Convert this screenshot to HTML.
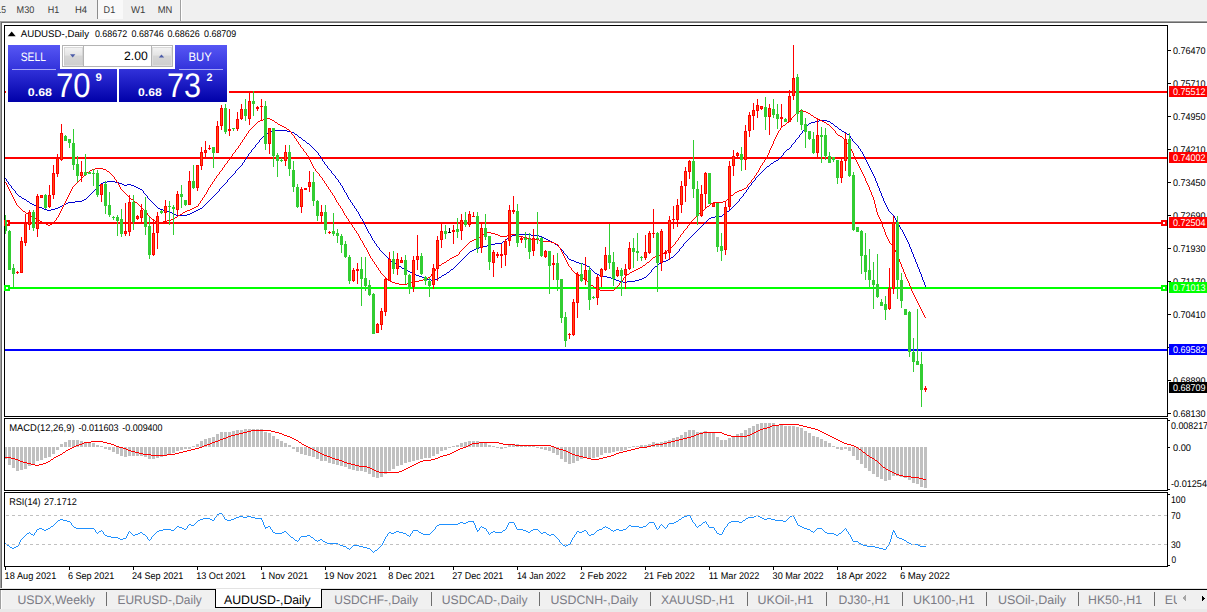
<!DOCTYPE html>
<html><head><meta charset="utf-8"><title>AUDUSD-,Daily</title>
<style>html,body{margin:0;padding:0;background:#fff;overflow:hidden}svg{display:block}text{font-family:"Liberation Sans",sans-serif;white-space:pre}</style>
</head><body>
<svg width="1207" height="612" viewBox="0 0 1207 612" shape-rendering="crispEdges" text-rendering="geometricPrecision">
<rect x="0" y="0" width="1207" height="612" fill="#fff" />
<rect x="0" y="0" width="1207" height="21" fill="#f0f0f0" />
<rect x="0" y="20" width="1207" height="1" fill="#f6f6f6" />
<rect x="0" y="21" width="1207" height="1" fill="#a0a0a0" />
<rect x="0" y="22" width="1207" height="1" fill="#696969" />
<rect x="0" y="22" width="1" height="566" fill="#a0a0a0" />
<rect x="1" y="23" width="1" height="565" fill="#696969" />
<rect x="98" y="0" width="25" height="19" fill="#f9f9f9" />
<rect x="97" y="0" width="1" height="19" fill="#8c8c8c" />
<rect x="180" y="0" width="1" height="21" fill="#a0a0a0" />
<rect x="181" y="0" width="1" height="21" fill="#ffffff" />
<text x="-3.5" y="13" font-size="9.7" fill="#3c3c3c" textLength="9.5" lengthAdjust="spacingAndGlyphs" >15</text>
<text x="16.6" y="13" font-size="9.7" fill="#3c3c3c" textLength="17.7" lengthAdjust="spacingAndGlyphs" >M30</text>
<text x="47.7" y="13" font-size="9.7" fill="#3c3c3c" textLength="11.5" lengthAdjust="spacingAndGlyphs" >H1</text>
<text x="74.9" y="13" font-size="9.7" fill="#3c3c3c" textLength="12.1" lengthAdjust="spacingAndGlyphs" >H4</text>
<text x="103.6" y="13" font-size="9.7" fill="#3c3c3c" textLength="11.6" lengthAdjust="spacingAndGlyphs" >D1</text>
<text x="130.9" y="13" font-size="9.7" fill="#3c3c3c" textLength="14.4" lengthAdjust="spacingAndGlyphs" >W1</text>
<text x="157.7" y="13" font-size="9.7" fill="#3c3c3c" textLength="14.6" lengthAdjust="spacingAndGlyphs" >MN</text>
<rect x="4" y="25" width="1164" height="1" fill="#000" />
<rect x="4" y="416" width="1164" height="1" fill="#000" />
<rect x="4" y="25" width="1" height="392" fill="#000" />
<rect x="1167" y="25" width="1" height="392" fill="#000" />
<rect x="4" y="418" width="1164" height="1" fill="#000" />
<rect x="4" y="490" width="1164" height="1" fill="#000" />
<rect x="4" y="418" width="1" height="73" fill="#000" />
<rect x="1167" y="418" width="1" height="73" fill="#000" />
<rect x="4" y="492" width="1164" height="1" fill="#000" />
<rect x="4" y="566" width="1164" height="1" fill="#000" />
<rect x="4" y="492" width="1" height="75" fill="#000" />
<rect x="1167" y="492" width="1" height="75" fill="#000" />
<rect x="5" y="91" width="1162" height="2" fill="#ff0000"/>
<rect x="5" y="157" width="1162" height="2" fill="#ff0000"/>
<rect x="5" y="222" width="1162" height="2" fill="#ff0000"/>
<rect x="5" y="287" width="1162" height="2" fill="#00ff00"/>
<rect x="5" y="349" width="1162" height="2" fill="#0000ff"/>
<rect x="4" y="220" width="6" height="6" fill="#ff0000"/><rect x="6" y="222" width="2" height="2" fill="#fff"/>
<rect x="1161" y="220" width="6" height="6" fill="#ff0000"/><rect x="1163" y="222" width="2" height="2" fill="#fff"/>
<rect x="4" y="285" width="6" height="6" fill="#00ff00"/><rect x="6" y="287" width="2" height="2" fill="#fff"/>
<rect x="1161" y="285" width="6" height="6" fill="#00ff00"/><rect x="1163" y="287" width="2" height="2" fill="#fff"/>
<path d="M6 179h1v2h-1zM8 182h1v2h-1zM11 186h1v2h-1zM15 191h1v2h-1zM143 191h1v2h-1zM147 196h1v2h-1zM219 189h1v2h-1zM227 180h1v2h-1zM235 171h1v2h-1zM242 163h1v2h-1zM244 160h1v2h-1zM246 157h1v2h-1zM248 154h1v2h-1zM251 150h1v2h-1zM255 145h1v2h-1zM259 140h1v2h-1zM318 153h1v2h-1zM320 156h1v2h-1zM322 159h1v2h-1zM324 162h1v2h-1zM327 166h1v2h-1zM331 171h1v2h-1zM335 176h1v2h-1zM338 180h1v2h-1zM340 183h1v2h-1zM342 186h1v2h-1zM343 188h1v2h-1zM344 190h1v2h-1zM346 193h1v2h-1zM347 195h1v2h-1zM348 197h1v2h-1zM350 200h1v2h-1zM352 203h1v2h-1zM354 206h1v2h-1zM356 209h1v2h-1zM358 212h1v2h-1zM359 214h1v2h-1zM360 216h1v2h-1zM362 219h1v2h-1zM363 221h1v2h-1zM364 223h1v2h-1zM365 225h1v2h-1zM366 227h1v2h-1zM367 229h1v2h-1zM368 231h1v2h-1zM370 234h1v2h-1zM371 236h1v2h-1zM372 238h1v2h-1zM374 241h1v2h-1zM376 244h1v2h-1zM379 248h1v2h-1zM563 251h1v2h-1zM567 256h1v2h-1zM651 270h1v2h-1zM679 249h1v2h-1zM683 244h1v2h-1zM739 199h1v2h-1zM743 194h1v2h-1zM746 190h1v2h-1zM748 187h1v2h-1zM751 183h1v2h-1zM755 178h1v2h-1zM783 153h1v2h-1zM791 145h1v2h-1zM795 140h1v2h-1zM799 135h1v2h-1zM802 131h1v2h-1zM804 128h1v2h-1zM850 136h1v2h-1zM852 139h1v2h-1zM858 146h1v2h-1zM860 149h1v2h-1zM862 152h1v2h-1zM863 154h1v2h-1zM864 156h1v2h-1zM865 158h1v2h-1zM866 160h1v2h-1zM867 162h1v2h-1zM868 164h1v2h-1zM869 166h1v2h-1zM870 168h1v2h-1zM871 170h1v2h-1zM872 172h1v2h-1zM873 174h1v2h-1zM874 176h1v2h-1zM875 178h1v3h-1zM876 181h1v2h-1zM877 183h1v3h-1zM878 186h1v2h-1zM879 188h1v3h-1zM880 191h1v2h-1zM881 193h1v3h-1zM882 196h1v2h-1zM883 198h1v3h-1zM884 201h1v2h-1zM885 203h1v2h-1zM886 205h1v2h-1zM887 207h1v2h-1zM888 209h1v2h-1zM894 216h1v2h-1zM895 218h1v2h-1zM896 220h1v2h-1zM898 223h1v2h-1zM899 225h1v2h-1zM900 227h1v2h-1zM902 230h1v2h-1zM903 232h1v2h-1zM904 234h1v2h-1zM905 236h1v2h-1zM906 238h1v2h-1zM907 240h1v2h-1zM908 242h1v2h-1zM909 244h1v3h-1zM910 247h1v2h-1zM911 249h1v3h-1zM912 252h1v2h-1zM913 254h1v3h-1zM914 257h1v2h-1zM915 259h1v3h-1zM916 262h1v2h-1zM917 264h1v3h-1zM918 267h1v2h-1zM919 269h1v3h-1zM920 272h1v2h-1zM921 274h1v3h-1zM922 277h1v3h-1zM923 280h1v2h-1zM924 282h1v3h-1zM925 285h1v2h-1zM5 178h1v1h-1zM229 178h1v1h-1zM336 178h1v1h-1zM7 181h1v1h-1zM107 181h8v1h-8zM753 181h1v1h-1zM9 184h1v1h-1zM100 184h1v1h-1zM122 184h2v1h-2zM127 184h4v1h-4zM224 184h1v1h-1zM10 185h1v1h-1zM99 185h1v1h-1zM124 185h3v1h-3zM131 185h3v1h-3zM223 185h1v1h-1zM341 185h1v1h-1zM750 185h1v1h-1zM12 188h1v1h-1zM96 188h1v1h-1zM138 188h2v1h-2zM220 188h1v1h-1zM13 189h1v1h-1zM95 189h1v1h-1zM140 189h2v1h-2zM747 189h1v1h-1zM14 190h1v1h-1zM94 190h1v1h-1zM142 190h1v1h-1zM16 193h1v1h-1zM91 193h1v1h-1zM144 193h1v1h-1zM216 193h1v1h-1zM744 193h1v1h-1zM17 194h1v1h-1zM90 194h1v1h-1zM145 194h1v1h-1zM215 194h1v1h-1zM18 195h1v1h-1zM89 195h1v1h-1zM146 195h1v1h-1zM214 195h1v1h-1zM19 196h2v1h-2zM88 196h1v1h-1zM213 196h1v1h-1zM742 196h1v1h-1zM21 197h1v1h-1zM87 197h1v1h-1zM212 197h1v1h-1zM741 197h1v1h-1zM22 198h2v1h-2zM86 198h1v1h-1zM148 198h1v1h-1zM211 198h1v1h-1zM740 198h1v1h-1zM24 199h2v1h-2zM84 199h2v1h-2zM149 199h1v1h-1zM210 199h1v1h-1zM349 199h1v1h-1zM26 200h1v1h-1zM82 200h2v1h-2zM150 200h1v1h-1zM209 200h1v1h-1zM27 201h2v1h-2zM75 201h7v1h-7zM151 201h1v1h-1zM208 201h1v1h-1zM738 201h1v1h-1zM29 202h1v1h-1zM68 202h7v1h-7zM152 202h1v1h-1zM207 202h1v1h-1zM351 202h1v1h-1zM737 202h1v1h-1zM30 203h2v1h-2zM66 203h2v1h-2zM153 203h1v1h-1zM206 203h1v1h-1zM736 203h1v1h-1zM32 204h2v1h-2zM64 204h2v1h-2zM154 204h1v1h-1zM205 204h1v1h-1zM735 204h1v1h-1zM34 205h2v1h-2zM62 205h2v1h-2zM155 205h1v1h-1zM204 205h1v1h-1zM353 205h1v1h-1zM734 205h1v1h-1zM36 206h3v1h-3zM60 206h2v1h-2zM156 206h1v1h-1zM203 206h1v1h-1zM733 206h1v1h-1zM39 207h3v1h-3zM58 207h2v1h-2zM157 207h1v1h-1zM202 207h1v1h-1zM732 207h1v1h-1zM42 208h2v1h-2zM55 208h3v1h-3zM158 208h2v1h-2zM200 208h2v1h-2zM355 208h1v1h-1zM731 208h1v1h-1zM44 209h3v1h-3zM51 209h4v1h-4zM160 209h3v1h-3zM198 209h2v1h-2zM730 209h1v1h-1zM47 210h4v1h-4zM163 210h4v1h-4zM196 210h2v1h-2zM729 210h1v1h-1zM92 192h1v1h-1zM217 192h1v1h-1zM345 192h1v1h-1zM745 192h1v1h-1zM93 191h1v1h-1zM218 191h1v1h-1zM97 187h1v1h-1zM136 187h2v1h-2zM221 187h1v1h-1zM98 186h1v1h-1zM134 186h2v1h-2zM222 186h1v1h-1zM749 186h1v1h-1zM101 183h2v1h-2zM119 183h3v1h-3zM225 183h1v1h-1zM103 182h4v1h-4zM115 182h4v1h-4zM226 182h1v1h-1zM339 182h1v1h-1zM752 182h1v1h-1zM167 211h3v1h-3zM194 211h2v1h-2zM357 211h1v1h-1zM727 211h2v1h-2zM889 211h1v1h-1zM170 212h2v1h-2zM192 212h2v1h-2zM726 212h1v1h-1zM890 212h1v1h-1zM172 213h2v1h-2zM190 213h2v1h-2zM725 213h1v1h-1zM891 213h1v1h-1zM174 214h2v1h-2zM187 214h3v1h-3zM723 214h2v1h-2zM892 214h1v1h-1zM176 215h11v1h-11zM722 215h1v1h-1zM893 215h1v1h-1zM228 179h1v1h-1zM337 179h1v1h-1zM230 177h1v1h-1zM756 177h1v1h-1zM231 176h1v1h-1zM757 176h1v1h-1zM232 175h1v1h-1zM334 175h1v1h-1zM758 175h1v1h-1zM233 174h1v1h-1zM333 174h1v1h-1zM759 174h1v1h-1zM234 173h1v1h-1zM332 173h1v1h-1zM760 173h1v1h-1zM236 170h1v1h-1zM330 170h1v1h-1zM763 170h1v1h-1zM237 169h1v1h-1zM329 169h1v1h-1zM764 169h1v1h-1zM238 168h1v1h-1zM328 168h1v1h-1zM765 168h1v1h-1zM239 167h1v1h-1zM766 167h1v1h-1zM240 166h1v1h-1zM767 166h2v1h-2zM241 165h1v1h-1zM326 165h1v1h-1zM769 165h1v1h-1zM243 162h1v1h-1zM773 162h1v1h-1zM245 159h1v1h-1zM778 159h1v1h-1zM247 156h1v1h-1zM781 156h1v1h-1zM249 153h1v1h-1zM250 152h1v1h-1zM317 152h1v1h-1zM784 152h1v1h-1zM252 149h1v1h-1zM314 149h1v1h-1zM787 149h2v1h-2zM253 148h1v1h-1zM313 148h1v1h-1zM789 148h1v1h-1zM859 148h1v1h-1zM254 147h1v1h-1zM312 147h1v1h-1zM790 147h1v1h-1zM256 144h1v1h-1zM309 144h1v1h-1zM792 144h1v1h-1zM856 144h1v1h-1zM257 143h1v1h-1zM307 143h2v1h-2zM793 143h1v1h-1zM855 143h1v1h-1zM258 142h1v1h-1zM306 142h1v1h-1zM794 142h1v1h-1zM854 142h1v1h-1zM260 139h1v1h-1zM302 139h1v1h-1zM796 139h1v1h-1zM261 138h1v1h-1zM301 138h1v1h-1zM797 138h1v1h-1zM851 138h1v1h-1zM262 137h1v1h-1zM299 137h2v1h-2zM798 137h1v1h-1zM263 136h2v1h-2zM298 136h1v1h-1zM265 135h1v1h-1zM297 135h1v1h-1zM849 135h1v1h-1zM266 134h1v1h-1zM295 134h2v1h-2zM800 134h1v1h-1zM847 134h2v1h-2zM267 133h2v1h-2zM294 133h1v1h-1zM801 133h1v1h-1zM846 133h1v1h-1zM269 132h2v1h-2zM291 132h3v1h-3zM844 132h2v1h-2zM271 131h4v1h-4zM287 131h4v1h-4zM842 131h2v1h-2zM275 130h12v1h-12zM803 130h1v1h-1zM841 130h1v1h-1zM303 140h2v1h-2zM305 141h1v1h-1zM853 141h1v1h-1zM310 145h1v1h-1zM857 145h1v1h-1zM311 146h1v1h-1zM315 150h1v1h-1zM786 150h1v1h-1zM316 151h1v1h-1zM785 151h1v1h-1zM861 151h1v1h-1zM319 155h1v1h-1zM782 155h1v1h-1zM321 158h1v1h-1zM779 158h1v1h-1zM323 161h1v1h-1zM774 161h2v1h-2zM325 164h1v1h-1zM770 164h1v1h-1zM361 218h1v1h-1zM709 218h2v1h-2zM369 233h1v1h-1zM694 233h1v1h-1zM373 240h1v1h-1zM505 240h1v1h-1zM548 240h2v1h-2zM687 240h1v1h-1zM375 243h1v1h-1zM495 243h7v1h-7zM554 243h1v1h-1zM684 243h1v1h-1zM377 246h1v1h-1zM483 246h4v1h-4zM558 246h1v1h-1zM682 246h1v1h-1zM378 247h1v1h-1zM479 247h4v1h-4zM559 247h1v1h-1zM681 247h1v1h-1zM380 250h1v1h-1zM472 250h2v1h-2zM562 250h1v1h-1zM381 251h1v1h-1zM470 251h2v1h-2zM678 251h1v1h-1zM382 252h1v1h-1zM469 252h1v1h-1zM677 252h1v1h-1zM383 253h1v1h-1zM468 253h1v1h-1zM564 253h1v1h-1zM676 253h1v1h-1zM384 254h1v1h-1zM467 254h1v1h-1zM565 254h1v1h-1zM675 254h1v1h-1zM385 255h1v1h-1zM466 255h1v1h-1zM566 255h1v1h-1zM674 255h1v1h-1zM386 256h1v1h-1zM465 256h1v1h-1zM673 256h1v1h-1zM387 257h1v1h-1zM464 257h1v1h-1zM671 257h2v1h-2zM388 258h1v1h-1zM463 258h1v1h-1zM568 258h1v1h-1zM670 258h1v1h-1zM389 259h1v1h-1zM462 259h1v1h-1zM569 259h2v1h-2zM668 259h2v1h-2zM390 260h1v1h-1zM461 260h1v1h-1zM571 260h3v1h-3zM666 260h2v1h-2zM391 261h2v1h-2zM460 261h1v1h-1zM574 261h2v1h-2zM663 261h3v1h-3zM393 262h1v1h-1zM459 262h1v1h-1zM576 262h3v1h-3zM661 262h2v1h-2zM394 263h2v1h-2zM458 263h1v1h-1zM579 263h4v1h-4zM659 263h2v1h-2zM396 264h2v1h-2zM457 264h1v1h-1zM583 264h3v1h-3zM658 264h1v1h-1zM398 265h1v1h-1zM456 265h1v1h-1zM586 265h1v1h-1zM657 265h1v1h-1zM399 266h2v1h-2zM455 266h1v1h-1zM587 266h2v1h-2zM655 266h2v1h-2zM401 267h1v1h-1zM454 267h1v1h-1zM589 267h1v1h-1zM654 267h1v1h-1zM402 268h2v1h-2zM453 268h1v1h-1zM590 268h1v1h-1zM653 268h1v1h-1zM404 269h2v1h-2zM451 269h2v1h-2zM591 269h1v1h-1zM652 269h1v1h-1zM406 270h2v1h-2zM450 270h1v1h-1zM592 270h1v1h-1zM408 271h2v1h-2zM449 271h1v1h-1zM593 271h1v1h-1zM410 272h2v1h-2zM447 272h2v1h-2zM594 272h1v1h-1zM650 272h1v1h-1zM412 273h2v1h-2zM446 273h1v1h-1zM595 273h2v1h-2zM649 273h1v1h-1zM414 274h2v1h-2zM444 274h2v1h-2zM597 274h2v1h-2zM648 274h1v1h-1zM416 275h3v1h-3zM442 275h2v1h-2zM599 275h4v1h-4zM647 275h1v1h-1zM419 276h3v1h-3zM441 276h1v1h-1zM603 276h4v1h-4zM646 276h1v1h-1zM422 277h2v1h-2zM439 277h2v1h-2zM607 277h4v1h-4zM644 277h2v1h-2zM424 278h3v1h-3zM438 278h1v1h-1zM611 278h3v1h-3zM642 278h2v1h-2zM427 279h4v1h-4zM435 279h3v1h-3zM614 279h2v1h-2zM639 279h3v1h-3zM431 280h4v1h-4zM616 280h3v1h-3zM635 280h4v1h-4zM474 249h2v1h-2zM561 249h1v1h-1zM476 248h3v1h-3zM560 248h1v1h-1zM680 248h1v1h-1zM487 245h4v1h-4zM557 245h1v1h-1zM491 244h4v1h-4zM555 244h2v1h-2zM502 242h1v1h-1zM552 242h2v1h-2zM685 242h1v1h-1zM503 241h2v1h-2zM550 241h2v1h-2zM686 241h1v1h-1zM506 239h1v1h-1zM546 239h2v1h-2zM688 239h1v1h-1zM507 238h2v1h-2zM544 238h2v1h-2zM689 238h1v1h-1zM509 237h1v1h-1zM542 237h2v1h-2zM690 237h1v1h-1zM510 236h2v1h-2zM539 236h3v1h-3zM691 236h1v1h-1zM512 235h3v1h-3zM531 235h8v1h-8zM692 235h1v1h-1zM515 234h16v1h-16zM693 234h1v1h-1zM619 281h4v1h-4zM627 281h8v1h-8zM623 282h4v1h-4zM695 232h1v1h-1zM696 231h1v1h-1zM697 230h1v1h-1zM698 229h1v1h-1zM901 229h1v1h-1zM699 228h1v1h-1zM700 227h1v1h-1zM701 226h1v1h-1zM702 225h1v1h-1zM703 224h1v1h-1zM704 223h1v1h-1zM705 222h1v1h-1zM897 222h1v1h-1zM706 221h1v1h-1zM707 220h1v1h-1zM708 219h1v1h-1zM711 217h4v1h-4zM715 216h7v1h-7zM754 180h1v1h-1zM761 172h1v1h-1zM762 171h1v1h-1zM771 163h2v1h-2zM776 160h2v1h-2zM780 157h1v1h-1zM805 127h1v1h-1zM837 127h1v1h-1zM806 126h1v1h-1zM835 126h2v1h-2zM807 125h1v1h-1zM834 125h1v1h-1zM808 124h1v1h-1zM833 124h1v1h-1zM809 123h2v1h-2zM831 123h2v1h-2zM811 122h4v1h-4zM830 122h1v1h-1zM815 121h4v1h-4zM827 121h3v1h-3zM819 120h8v1h-8zM838 128h1v1h-1zM839 129h2v1h-2z" fill="#0000d0"/>
<path d="M6 183h1v2h-1zM7 185h1v2h-1zM8 187h1v2h-1zM9 189h1v2h-1zM10 191h1v2h-1zM11 193h1v2h-1zM12 195h1v2h-1zM13 197h1v2h-1zM14 199h1v2h-1zM15 201h1v2h-1zM16 203h1v2h-1zM54 221h1v2h-1zM56 218h1v2h-1zM58 215h1v2h-1zM59 213h1v2h-1zM60 211h1v2h-1zM61 209h1v2h-1zM62 207h1v2h-1zM63 205h1v2h-1zM64 203h1v2h-1zM65 201h1v2h-1zM66 199h1v2h-1zM67 197h1v2h-1zM68 195h1v2h-1zM69 193h1v2h-1zM70 191h1v2h-1zM71 189h1v2h-1zM72 187h1v2h-1zM114 177h1v2h-1zM116 180h1v2h-1zM118 183h1v2h-1zM119 185h1v2h-1zM120 187h1v2h-1zM147 213h1v2h-1zM198 204h1v2h-1zM200 201h1v2h-1zM202 198h1v2h-1zM204 195h1v2h-1zM206 192h1v2h-1zM207 190h1v2h-1zM208 188h1v2h-1zM210 185h1v2h-1zM212 182h1v2h-1zM214 179h1v2h-1zM216 176h1v2h-1zM219 172h1v2h-1zM222 168h1v2h-1zM224 165h1v2h-1zM227 161h1v2h-1zM230 157h1v2h-1zM232 154h1v2h-1zM235 150h1v2h-1zM238 146h1v2h-1zM240 143h1v2h-1zM242 140h1v2h-1zM244 137h1v2h-1zM246 134h1v2h-1zM248 131h1v2h-1zM291 132h1v2h-1zM294 136h1v2h-1zM296 139h1v2h-1zM298 142h1v2h-1zM300 145h1v2h-1zM303 149h1v2h-1zM306 153h1v2h-1zM308 156h1v2h-1zM309 158h1v2h-1zM310 160h1v2h-1zM311 162h1v2h-1zM312 164h1v2h-1zM313 166h1v2h-1zM315 169h1v2h-1zM319 174h1v2h-1zM322 178h1v2h-1zM324 181h1v2h-1zM326 184h1v2h-1zM328 187h1v2h-1zM330 190h1v2h-1zM332 193h1v2h-1zM334 196h1v2h-1zM335 198h1v2h-1zM336 200h1v2h-1zM338 203h1v2h-1zM340 206h1v2h-1zM342 209h1v2h-1zM343 211h1v2h-1zM344 213h1v2h-1zM346 216h1v2h-1zM348 219h1v2h-1zM350 222h1v2h-1zM352 225h1v2h-1zM354 228h1v2h-1zM356 231h1v2h-1zM358 234h1v2h-1zM359 236h1v2h-1zM360 238h1v2h-1zM362 241h1v2h-1zM363 243h1v2h-1zM364 245h1v2h-1zM366 248h1v2h-1zM367 250h1v2h-1zM368 252h1v2h-1zM369 254h1v2h-1zM370 256h1v2h-1zM372 259h1v2h-1zM374 262h1v2h-1zM376 265h1v2h-1zM378 268h1v2h-1zM380 271h1v2h-1zM431 274h1v2h-1zM435 269h1v2h-1zM459 252h1v2h-1zM558 245h1v2h-1zM560 248h1v2h-1zM561 250h1v2h-1zM562 252h1v2h-1zM563 254h1v2h-1zM564 256h1v2h-1zM565 258h1v2h-1zM566 260h1v2h-1zM567 262h1v2h-1zM568 264h1v2h-1zM571 268h1v2h-1zM619 283h1v2h-1zM623 278h1v2h-1zM675 242h1v2h-1zM678 238h1v2h-1zM680 235h1v2h-1zM683 231h1v2h-1zM687 226h1v2h-1zM691 221h1v2h-1zM747 185h1v2h-1zM751 180h1v2h-1zM754 176h1v2h-1zM756 173h1v2h-1zM758 170h1v2h-1zM759 168h1v2h-1zM760 166h1v2h-1zM762 163h1v2h-1zM764 160h1v2h-1zM766 157h1v2h-1zM767 155h1v2h-1zM768 153h1v2h-1zM769 150h1v3h-1zM770 148h1v2h-1zM771 146h1v2h-1zM772 144h1v2h-1zM773 141h1v3h-1zM774 139h1v2h-1zM775 137h1v2h-1zM776 135h1v2h-1zM777 133h1v2h-1zM778 131h1v2h-1zM780 128h1v2h-1zM791 118h1v2h-1zM835 131h1v2h-1zM846 141h1v2h-1zM848 144h1v2h-1zM850 147h1v2h-1zM851 149h1v2h-1zM852 151h1v2h-1zM853 153h1v3h-1zM854 156h1v2h-1zM855 158h1v2h-1zM856 160h1v2h-1zM857 162h1v2h-1zM858 164h1v2h-1zM859 166h1v2h-1zM860 168h1v2h-1zM861 170h1v2h-1zM862 172h1v2h-1zM863 174h1v2h-1zM864 176h1v2h-1zM865 178h1v3h-1zM866 181h1v2h-1zM867 183h1v2h-1zM868 185h1v2h-1zM869 187h1v3h-1zM870 190h1v2h-1zM871 192h1v3h-1zM872 195h1v2h-1zM873 197h1v3h-1zM874 200h1v4h-1zM875 204h1v4h-1zM876 208h1v4h-1zM877 212h1v3h-1zM878 215h1v2h-1zM879 217h1v2h-1zM880 219h1v2h-1zM881 221h1v3h-1zM882 224h1v3h-1zM883 227h1v2h-1zM884 229h1v3h-1zM885 232h1v3h-1zM886 235h1v2h-1zM887 237h1v2h-1zM888 239h1v2h-1zM889 241h1v2h-1zM893 246h1v2h-1zM894 248h1v2h-1zM895 250h1v2h-1zM896 252h1v2h-1zM897 254h1v3h-1zM898 257h1v2h-1zM899 259h1v3h-1zM900 262h1v2h-1zM901 264h1v3h-1zM902 267h1v2h-1zM903 269h1v3h-1zM904 272h1v2h-1zM905 274h1v3h-1zM906 277h1v2h-1zM907 279h1v2h-1zM908 281h1v2h-1zM909 283h1v3h-1zM910 286h1v2h-1zM911 288h1v3h-1zM912 291h1v2h-1zM913 293h1v2h-1zM914 295h1v2h-1zM915 297h1v2h-1zM916 299h1v2h-1zM917 301h1v2h-1zM918 303h1v2h-1zM919 305h1v2h-1zM920 307h1v2h-1zM921 309h1v2h-1zM922 311h1v2h-1zM923 313h1v2h-1zM924 315h1v2h-1zM5 182h1v1h-1zM77 182h1v1h-1zM117 182h1v1h-1zM750 182h1v1h-1zM17 205h1v1h-1zM139 205h1v1h-1zM339 205h1v1h-1zM709 205h1v1h-1zM18 206h1v1h-1zM140 206h1v1h-1zM196 206h2v1h-2zM707 206h2v1h-2zM19 207h1v1h-1zM141 207h1v1h-1zM194 207h2v1h-2zM706 207h1v1h-1zM20 208h1v1h-1zM142 208h1v1h-1zM192 208h2v1h-2zM341 208h1v1h-1zM705 208h1v1h-1zM21 209h1v1h-1zM143 209h1v1h-1zM190 209h2v1h-2zM704 209h1v1h-1zM22 210h1v1h-1zM144 210h1v1h-1zM187 210h3v1h-3zM703 210h1v1h-1zM23 211h2v1h-2zM145 211h1v1h-1zM185 211h2v1h-2zM702 211h1v1h-1zM25 212h1v1h-1zM146 212h1v1h-1zM183 212h2v1h-2zM701 212h1v1h-1zM26 213h2v1h-2zM182 213h1v1h-1zM699 213h2v1h-2zM28 214h2v1h-2zM180 214h2v1h-2zM698 214h1v1h-1zM30 215h1v1h-1zM148 215h1v1h-1zM178 215h2v1h-2zM345 215h1v1h-1zM697 215h1v1h-1zM31 216h2v1h-2zM149 216h1v1h-1zM177 216h1v1h-1zM696 216h1v1h-1zM33 217h1v1h-1zM57 217h1v1h-1zM150 217h1v1h-1zM175 217h2v1h-2zM695 217h1v1h-1zM34 218h2v1h-2zM151 218h1v1h-1zM174 218h1v1h-1zM347 218h1v1h-1zM694 218h1v1h-1zM36 219h2v1h-2zM152 219h1v1h-1zM171 219h3v1h-3zM693 219h1v1h-1zM38 220h2v1h-2zM55 220h1v1h-1zM153 220h2v1h-2zM167 220h4v1h-4zM692 220h1v1h-1zM40 221h2v1h-2zM155 221h4v1h-4zM163 221h4v1h-4zM349 221h1v1h-1zM42 222h2v1h-2zM159 222h4v1h-4zM44 223h2v1h-2zM52 223h2v1h-2zM690 223h1v1h-1zM46 224h2v1h-2zM50 224h2v1h-2zM351 224h1v1h-1zM689 224h1v1h-1zM48 225h2v1h-2zM688 225h1v1h-1zM73 186h1v1h-1zM327 186h1v1h-1zM74 185h1v1h-1zM75 184h1v1h-1zM211 184h1v1h-1zM748 184h1v1h-1zM76 183h1v1h-1zM325 183h1v1h-1zM749 183h1v1h-1zM78 181h1v1h-1zM213 181h1v1h-1zM79 180h1v1h-1zM323 180h1v1h-1zM80 179h1v1h-1zM115 179h1v1h-1zM752 179h1v1h-1zM81 178h1v1h-1zM215 178h1v1h-1zM753 178h1v1h-1zM82 177h1v1h-1zM321 177h1v1h-1zM83 176h1v1h-1zM113 176h1v1h-1zM320 176h1v1h-1zM84 175h1v1h-1zM112 175h1v1h-1zM217 175h1v1h-1zM755 175h1v1h-1zM85 174h1v1h-1zM111 174h1v1h-1zM218 174h1v1h-1zM86 173h1v1h-1zM110 173h1v1h-1zM318 173h1v1h-1zM87 172h2v1h-2zM109 172h1v1h-1zM317 172h1v1h-1zM757 172h1v1h-1zM89 171h1v1h-1zM107 171h2v1h-2zM220 171h1v1h-1zM316 171h1v1h-1zM90 170h2v1h-2zM106 170h1v1h-1zM221 170h1v1h-1zM92 169h3v1h-3zM103 169h3v1h-3zM95 168h8v1h-8zM314 168h1v1h-1zM121 189h1v1h-1zM329 189h1v1h-1zM742 189h2v1h-2zM122 190h1v1h-1zM739 190h3v1h-3zM123 191h1v1h-1zM737 191h2v1h-2zM124 192h1v1h-1zM331 192h1v1h-1zM735 192h2v1h-2zM125 193h1v1h-1zM734 193h1v1h-1zM126 194h1v1h-1zM205 194h1v1h-1zM733 194h1v1h-1zM127 195h1v1h-1zM333 195h1v1h-1zM731 195h2v1h-2zM128 196h1v1h-1zM730 196h1v1h-1zM129 197h1v1h-1zM203 197h1v1h-1zM729 197h1v1h-1zM130 198h1v1h-1zM728 198h1v1h-1zM131 199h2v1h-2zM727 199h1v1h-1zM133 200h1v1h-1zM201 200h1v1h-1zM726 200h1v1h-1zM134 201h1v1h-1zM723 201h3v1h-3zM135 202h2v1h-2zM337 202h1v1h-1zM713 202h10v1h-10zM137 203h1v1h-1zM199 203h1v1h-1zM711 203h2v1h-2zM138 204h1v1h-1zM710 204h1v1h-1zM209 187h1v1h-1zM746 187h1v1h-1zM223 167h1v1h-1zM225 164h1v1h-1zM226 163h1v1h-1zM228 160h1v1h-1zM229 159h1v1h-1zM765 159h1v1h-1zM231 156h1v1h-1zM233 153h1v1h-1zM234 152h1v1h-1zM305 152h1v1h-1zM236 149h1v1h-1zM237 148h1v1h-1zM302 148h1v1h-1zM239 145h1v1h-1zM241 142h1v1h-1zM243 139h1v1h-1zM844 139h1v1h-1zM245 136h1v1h-1zM840 136h2v1h-2zM247 133h1v1h-1zM836 133h1v1h-1zM249 130h1v1h-1zM289 130h1v1h-1zM779 130h1v1h-1zM834 130h1v1h-1zM250 129h1v1h-1zM287 129h2v1h-2zM833 129h1v1h-1zM251 128h1v1h-1zM286 128h1v1h-1zM832 128h1v1h-1zM252 127h1v1h-1zM284 127h2v1h-2zM781 127h1v1h-1zM831 127h1v1h-1zM253 126h1v1h-1zM282 126h2v1h-2zM782 126h1v1h-1zM830 126h1v1h-1zM254 125h1v1h-1zM280 125h2v1h-2zM783 125h2v1h-2zM829 125h1v1h-1zM255 124h1v1h-1zM278 124h2v1h-2zM785 124h1v1h-1zM827 124h2v1h-2zM256 123h1v1h-1zM277 123h1v1h-1zM786 123h1v1h-1zM826 123h1v1h-1zM257 122h1v1h-1zM275 122h2v1h-2zM787 122h2v1h-2zM824 122h2v1h-2zM258 121h2v1h-2zM274 121h1v1h-1zM789 121h1v1h-1zM822 121h2v1h-2zM260 120h3v1h-3zM272 120h2v1h-2zM790 120h1v1h-1zM820 120h2v1h-2zM263 119h4v1h-4zM270 119h2v1h-2zM818 119h2v1h-2zM267 118h3v1h-3zM816 118h2v1h-2zM290 131h1v1h-1zM292 134h1v1h-1zM837 134h1v1h-1zM293 135h1v1h-1zM838 135h2v1h-2zM295 138h1v1h-1zM843 138h1v1h-1zM297 141h1v1h-1zM299 144h1v1h-1zM301 147h1v1h-1zM304 151h1v1h-1zM307 155h1v1h-1zM353 227h1v1h-1zM355 230h1v1h-1zM684 230h1v1h-1zM357 233h1v1h-1zM485 233h2v1h-2zM491 233h4v1h-4zM682 233h1v1h-1zM361 240h1v1h-1zM472 240h2v1h-2zM539 240h4v1h-4zM677 240h1v1h-1zM365 247h1v1h-1zM464 247h1v1h-1zM559 247h1v1h-1zM671 247h1v1h-1zM371 258h1v1h-1zM450 258h2v1h-2zM652 258h1v1h-1zM373 261h1v1h-1zM446 261h1v1h-1zM649 261h1v1h-1zM375 264h1v1h-1zM441 264h1v1h-1zM645 264h1v1h-1zM377 267h1v1h-1zM437 267h1v1h-1zM570 267h1v1h-1zM640 267h2v1h-2zM379 270h1v1h-1zM572 270h1v1h-1zM634 270h2v1h-2zM381 273h1v1h-1zM432 273h1v1h-1zM575 273h2v1h-2zM629 273h1v1h-1zM382 274h1v1h-1zM577 274h1v1h-1zM627 274h2v1h-2zM383 275h1v1h-1zM578 275h2v1h-2zM626 275h1v1h-1zM384 276h1v1h-1zM430 276h1v1h-1zM580 276h2v1h-2zM625 276h1v1h-1zM385 277h1v1h-1zM428 277h2v1h-2zM582 277h1v1h-1zM624 277h1v1h-1zM386 278h1v1h-1zM426 278h2v1h-2zM583 278h2v1h-2zM387 279h2v1h-2zM423 279h3v1h-3zM585 279h1v1h-1zM389 280h1v1h-1zM419 280h4v1h-4zM586 280h1v1h-1zM622 280h1v1h-1zM390 281h2v1h-2zM415 281h4v1h-4zM587 281h1v1h-1zM621 281h1v1h-1zM392 282h3v1h-3zM411 282h4v1h-4zM588 282h1v1h-1zM620 282h1v1h-1zM395 283h4v1h-4zM407 283h4v1h-4zM589 283h1v1h-1zM399 284h8v1h-8zM590 284h1v1h-1zM433 272h1v1h-1zM574 272h1v1h-1zM630 272h2v1h-2zM434 271h1v1h-1zM573 271h1v1h-1zM632 271h2v1h-2zM436 268h1v1h-1zM638 268h2v1h-2zM438 266h1v1h-1zM569 266h1v1h-1zM642 266h1v1h-1zM439 265h2v1h-2zM643 265h2v1h-2zM442 263h2v1h-2zM646 263h1v1h-1zM444 262h2v1h-2zM647 262h2v1h-2zM447 260h2v1h-2zM650 260h1v1h-1zM449 259h1v1h-1zM651 259h1v1h-1zM452 257h2v1h-2zM653 257h2v1h-2zM454 256h2v1h-2zM655 256h4v1h-4zM456 255h2v1h-2zM659 255h3v1h-3zM458 254h1v1h-1zM662 254h1v1h-1zM460 251h1v1h-1zM666 251h1v1h-1zM461 250h1v1h-1zM667 250h2v1h-2zM462 249h1v1h-1zM669 249h1v1h-1zM463 248h1v1h-1zM670 248h1v1h-1zM465 246h1v1h-1zM672 246h1v1h-1zM466 245h1v1h-1zM673 245h1v1h-1zM892 245h1v1h-1zM467 244h1v1h-1zM556 244h2v1h-2zM674 244h1v1h-1zM891 244h1v1h-1zM468 243h1v1h-1zM554 243h2v1h-2zM890 243h1v1h-1zM469 242h1v1h-1zM551 242h3v1h-3zM470 241h2v1h-2zM543 241h8v1h-8zM676 241h1v1h-1zM474 239h2v1h-2zM531 239h8v1h-8zM476 238h2v1h-2zM527 238h4v1h-4zM478 237h2v1h-2zM523 237h4v1h-4zM679 237h1v1h-1zM480 236h2v1h-2zM500 236h7v1h-7zM519 236h4v1h-4zM482 235h1v1h-1zM498 235h2v1h-2zM507 235h4v1h-4zM515 235h4v1h-4zM483 234h2v1h-2zM495 234h3v1h-3zM511 234h4v1h-4zM681 234h1v1h-1zM487 232h4v1h-4zM591 285h2v1h-2zM618 285h1v1h-1zM593 286h1v1h-1zM617 286h1v1h-1zM594 287h2v1h-2zM616 287h1v1h-1zM596 288h2v1h-2zM615 288h1v1h-1zM598 289h2v1h-2zM614 289h1v1h-1zM600 290h14v1h-14zM636 269h2v1h-2zM663 253h2v1h-2zM665 252h1v1h-1zM685 229h1v1h-1zM686 228h1v1h-1zM744 188h2v1h-2zM761 165h1v1h-1zM763 162h1v1h-1zM792 117h1v1h-1zM814 117h2v1h-2zM793 116h1v1h-1zM813 116h1v1h-1zM794 115h1v1h-1zM811 115h2v1h-2zM795 114h1v1h-1zM810 114h1v1h-1zM796 113h1v1h-1zM808 113h2v1h-2zM797 112h1v1h-1zM806 112h2v1h-2zM798 111h2v1h-2zM803 111h3v1h-3zM800 110h3v1h-3zM842 137h1v1h-1zM845 140h1v1h-1zM847 143h1v1h-1zM849 146h1v1h-1zM925 317h1v1h-1z" fill="#ff0000"/>
<path d="M5 215h1v19h-1zM9 230h1v40h-1zM13 264h1v23h-1zM33 210h1v21h-1zM45 194h1v15h-1zM65 135h1v6h-1zM69 139h1v9h-1zM73 129h1v41h-1zM77 156h1v26h-1zM85 154h1v22h-1zM89 172h1v2h-1zM93 169h1v17h-1zM97 170h1v27h-1zM105 181h1v33h-1zM109 192h1v25h-1zM113 216h1v4h-1zM117 215h1v21h-1zM121 209h1v28h-1zM133 195h1v35h-1zM145 197h1v38h-1zM149 217h1v42h-1zM161 210h1v4h-1zM169 201h1v24h-1zM173 205h1v30h-1zM181 185h1v23h-1zM185 200h1v6h-1zM193 165h1v24h-1zM213 147h1v21h-1zM225 104h1v30h-1zM233 128h1v3h-1zM245 99h1v22h-1zM253 91h1v25h-1zM265 101h1v49h-1zM273 128h1v39h-1zM277 153h1v24h-1zM281 158h1v4h-1zM289 145h1v31h-1zM293 161h1v31h-1zM297 184h1v24h-1zM313 172h1v34h-1zM317 200h1v21h-1zM325 205h1v29h-1zM333 213h1v23h-1zM337 229h1v14h-1zM341 234h1v19h-1zM345 241h1v17h-1zM349 255h1v29h-1zM361 257h1v49h-1zM365 257h1v34h-1zM369 280h1v16h-1zM373 293h1v41h-1zM393 251h1v23h-1zM405 255h1v29h-1zM409 274h1v20h-1zM421 253h1v22h-1zM425 276h1v9h-1zM429 278h1v19h-1zM445 225h1v14h-1zM457 218h1v20h-1zM465 212h1v15h-1zM477 212h1v41h-1zM485 214h1v26h-1zM489 236h1v34h-1zM517 204h1v43h-1zM525 232h1v16h-1zM529 233h1v26h-1zM537 212h1v32h-1zM541 237h1v20h-1zM549 251h1v43h-1zM557 253h1v38h-1zM561 279h1v44h-1zM565 312h1v35h-1zM581 263h1v19h-1zM589 266h1v44h-1zM593 296h1v3h-1zM609 224h1v45h-1zM613 252h1v34h-1zM621 268h1v28h-1zM633 238h1v30h-1zM637 233h1v28h-1zM641 256h1v5h-1zM657 232h1v60h-1zM693 140h1v58h-1zM697 181h1v44h-1zM709 173h1v31h-1zM717 203h1v49h-1zM721 233h1v28h-1zM741 147h1v24h-1zM765 97h1v33h-1zM773 99h1v19h-1zM777 104h1v25h-1zM785 118h1v4h-1zM797 74h1v48h-1zM801 109h1v21h-1zM805 118h1v30h-1zM809 131h1v9h-1zM813 132h1v22h-1zM821 127h1v36h-1zM825 128h1v32h-1zM829 152h1v11h-1zM833 157h1v5h-1zM837 160h1v24h-1zM849 133h1v44h-1zM853 172h1v59h-1zM857 227h1v5h-1zM861 230h1v44h-1zM865 233h1v47h-1zM869 249h1v39h-1zM873 262h1v47h-1zM877 254h1v44h-1zM881 299h1v7h-1zM885 296h1v24h-1zM897 216h1v83h-1zM901 273h1v35h-1zM905 309h1v6h-1zM909 311h1v46h-1zM913 338h1v34h-1zM917 309h1v56h-1zM921 352h1v55h-1zM5 220h2v11h-2zM8 231h3v39h-3zM12 268h3v6h-3zM32 212h3v16h-3zM44 195h3v13h-3zM64 136h3v5h-3zM68 139h3v4h-3zM72 143h3v22h-3zM76 164h3v12h-3zM84 172h3v3h-3zM88 172h3v2h-3zM92 173h3v1h-3zM96 173h3v22h-3zM104 184h3v22h-3zM108 205h3v10h-3zM112 217h3v1h-3zM116 217h3v4h-3zM120 219h3v15h-3zM132 202h3v20h-3zM144 210h3v17h-3zM148 226h3v29h-3zM160 211h3v2h-3zM168 206h3v1h-3zM172 207h3v2h-3zM180 194h3v3h-3zM184 200h3v5h-3zM192 181h3v7h-3zM212 147h3v6h-3zM224 108h3v24h-3zM232 128h3v1h-3zM244 109h3v7h-3zM252 101h3v3h-3zM264 106h3v38h-3zM272 128h3v28h-3zM276 155h3v6h-3zM280 160h3v1h-3zM288 152h3v17h-3zM292 170h3v17h-3zM296 187h3v20h-3zM312 182h3v19h-3zM316 201h3v15h-3zM324 212h3v18h-3zM332 231h3v3h-3zM336 233h3v3h-3zM340 236h3v9h-3zM344 244h3v13h-3zM348 257h3v24h-3zM360 269h3v10h-3zM364 278h3v8h-3zM368 285h3v10h-3zM372 294h3v40h-3zM392 259h3v10h-3zM404 260h3v15h-3zM408 275h3v12h-3zM420 256h3v18h-3zM424 277h3v4h-3zM428 281h3v5h-3zM444 231h3v3h-3zM456 229h3v3h-3zM464 220h3v5h-3zM476 216h3v32h-3zM484 228h3v9h-3zM488 236h3v26h-3zM516 211h3v32h-3zM524 238h3v2h-3zM528 239h3v13h-3zM536 238h3v1h-3zM540 238h3v18h-3zM548 251h3v15h-3zM556 263h3v17h-3zM560 279h3v39h-3zM564 317h3v24h-3zM580 274h3v7h-3zM588 270h3v30h-3zM592 297h3v1h-3zM608 255h3v8h-3zM612 262h3v17h-3zM620 270h3v6h-3zM632 248h3v4h-3zM636 251h3v2h-3zM640 257h3v1h-3zM656 233h3v30h-3zM692 161h3v28h-3zM696 189h3v27h-3zM708 173h3v31h-3zM716 203h3v44h-3zM720 246h3v5h-3zM740 154h3v6h-3zM764 107h3v10h-3zM772 109h3v6h-3zM776 114h3v5h-3zM784 119h3v3h-3zM796 77h3v37h-3zM800 111h3v14h-3zM804 124h3v8h-3zM808 131h3v8h-3zM812 139h3v14h-3zM820 135h3v2h-3zM824 135h3v21h-3zM828 156h3v7h-3zM832 157h3v3h-3zM836 160h3v18h-3zM848 139h3v37h-3zM852 175h3v55h-3zM856 227h3v5h-3zM860 231h3v25h-3zM864 255h3v17h-3zM868 270h3v10h-3zM872 280h3v5h-3zM876 284h3v13h-3zM880 302h3v4h-3zM884 304h3v6h-3zM896 222h3v58h-3zM900 280h3v21h-3zM904 309h3v6h-3zM908 312h3v40h-3zM912 352h3v10h-3zM916 361h3v4h-3zM920 364h3v26h-3z" fill="#32cd32"/>
<path d="M17 271h1v3h-1zM21 237h1v36h-1zM25 214h1v32h-1zM29 210h1v20h-1zM37 194h1v43h-1zM41 195h1v3h-1zM49 185h1v23h-1zM53 165h1v34h-1zM57 154h1v23h-1zM61 124h1v37h-1zM81 161h1v21h-1zM101 184h1v18h-1zM125 203h1v33h-1zM129 195h1v41h-1zM137 215h1v5h-1zM141 204h1v19h-1zM153 219h1v37h-1zM157 212h1v37h-1zM165 200h1v22h-1zM177 191h1v24h-1zM189 171h1v34h-1zM197 165h1v26h-1zM201 147h1v23h-1zM205 141h1v16h-1zM209 145h1v5h-1zM217 121h1v32h-1zM221 105h1v25h-1zM229 109h1v27h-1zM237 112h1v19h-1zM241 104h1v16h-1zM249 92h1v33h-1zM257 106h1v5h-1zM261 99h1v22h-1zM269 128h1v26h-1zM285 145h1v21h-1zM301 187h1v26h-1zM305 188h1v2h-1zM309 171h1v21h-1zM321 205h1v17h-1zM329 231h1v3h-1zM353 268h1v14h-1zM357 263h1v21h-1zM377 323h1v10h-1zM381 308h1v22h-1zM385 278h1v38h-1zM389 252h1v29h-1zM397 253h1v22h-1zM401 257h1v6h-1zM413 256h1v36h-1zM417 235h1v35h-1zM433 264h1v25h-1zM437 236h1v45h-1zM441 223h1v25h-1zM453 225h1v19h-1zM461 214h1v26h-1zM469 211h1v16h-1zM473 212h1v5h-1zM481 224h1v29h-1zM493 250h1v27h-1zM497 252h1v6h-1zM501 244h1v24h-1zM505 239h1v27h-1zM509 205h1v41h-1zM513 196h1v18h-1zM521 237h1v6h-1zM533 229h1v27h-1zM545 250h1v8h-1zM553 255h1v25h-1zM569 333h1v6h-1zM573 299h1v37h-1zM577 272h1v46h-1zM585 257h1v28h-1zM597 275h1v30h-1zM601 268h1v19h-1zM605 247h1v24h-1zM617 267h1v10h-1zM625 264h1v25h-1zM629 242h1v28h-1zM645 235h1v25h-1zM649 231h1v23h-1zM653 209h1v29h-1zM661 229h1v42h-1zM665 250h1v9h-1zM669 216h1v44h-1zM673 206h1v23h-1zM677 199h1v28h-1zM681 181h1v32h-1zM685 167h1v35h-1zM689 160h1v19h-1zM701 185h1v32h-1zM705 172h1v37h-1zM713 203h1v4h-1zM725 202h1v53h-1zM729 161h1v49h-1zM733 150h1v26h-1zM737 152h1v5h-1zM745 125h1v45h-1zM749 112h1v25h-1zM753 103h1v27h-1zM757 99h1v19h-1zM761 106h1v4h-1zM769 104h1v31h-1zM781 104h1v23h-1zM789 90h1v32h-1zM793 45h1v55h-1zM817 118h1v39h-1zM841 159h1v24h-1zM845 133h1v38h-1zM889 268h1v42h-1zM893 216h1v78h-1zM925 386h1v6h-1zM16 272h3v1h-3zM20 241h3v32h-3zM24 223h3v20h-3zM28 212h3v13h-3zM36 196h3v33h-3zM40 195h3v3h-3zM48 195h3v12h-3zM52 173h3v22h-3zM56 158h3v16h-3zM60 133h3v27h-3zM80 172h3v4h-3zM100 184h3v11h-3zM124 231h3v3h-3zM128 202h3v30h-3zM136 216h3v3h-3zM140 210h3v8h-3zM152 233h3v22h-3zM156 216h3v17h-3zM164 206h3v7h-3zM176 194h3v16h-3zM188 181h3v24h-3zM196 165h3v23h-3zM200 152h3v14h-3zM204 150h3v3h-3zM208 148h3v1h-3zM216 126h3v27h-3zM220 108h3v18h-3zM228 129h3v2h-3zM236 119h3v10h-3zM240 109h3v10h-3zM248 101h3v18h-3zM256 107h3v2h-3zM260 106h3v1h-3zM268 128h3v16h-3zM284 152h3v9h-3zM300 189h3v18h-3zM304 188h3v2h-3zM308 182h3v5h-3zM320 212h3v4h-3zM328 232h3v1h-3zM352 270h3v11h-3zM356 269h3v2h-3zM376 324h3v9h-3zM380 311h3v14h-3zM384 279h3v33h-3zM388 259h3v22h-3zM396 259h3v10h-3zM400 260h3v3h-3zM412 260h3v27h-3zM416 256h3v4h-3zM432 268h3v17h-3zM436 240h3v29h-3zM440 231h3v9h-3zM452 230h3v2h-3zM460 220h3v11h-3zM468 214h3v11h-3zM472 216h3v1h-3zM480 228h3v20h-3zM492 252h3v11h-3zM496 254h3v2h-3zM500 254h3v2h-3zM504 241h3v14h-3zM508 210h3v31h-3zM512 210h3v2h-3zM520 238h3v2h-3zM532 238h3v13h-3zM544 251h3v6h-3zM552 263h3v2h-3zM568 334h3v1h-3zM572 302h3v33h-3zM576 274h3v29h-3zM584 270h3v10h-3zM596 277h3v21h-3zM600 269h3v8h-3zM604 255h3v15h-3zM616 270h3v6h-3zM624 269h3v6h-3zM628 248h3v21h-3zM644 252h3v6h-3zM648 233h3v20h-3zM652 233h3v1h-3zM660 231h3v32h-3zM664 252h3v2h-3zM668 220h3v33h-3zM672 219h3v1h-3zM676 205h3v15h-3zM680 186h3v19h-3zM684 171h3v15h-3zM688 161h3v11h-3zM700 194h3v22h-3zM704 173h3v21h-3zM712 203h3v4h-3zM724 207h3v43h-3zM728 166h3v41h-3zM732 156h3v10h-3zM736 153h3v3h-3zM744 131h3v29h-3zM748 115h3v16h-3zM752 110h3v6h-3zM756 105h3v6h-3zM760 106h3v3h-3zM768 108h3v9h-3zM780 117h3v2h-3zM788 96h3v26h-3zM792 78h3v18h-3zM816 135h3v18h-3zM840 161h3v17h-3zM844 139h3v22h-3zM888 288h3v21h-3zM892 222h3v67h-3zM924 388h3v2h-3z" fill="#ff0000"/>
<path d="M21 242h1v30h-1zM25 224h1v18h-1zM29 213h1v11h-1zM37 197h1v31h-1zM41 196h1v1h-1zM49 196h1v10h-1zM53 174h1v20h-1zM57 159h1v14h-1zM61 134h1v25h-1zM81 173h1v2h-1zM101 185h1v9h-1zM125 232h1v1h-1zM129 203h1v28h-1zM137 217h1v1h-1zM141 211h1v6h-1zM153 234h1v20h-1zM157 217h1v15h-1zM165 207h1v5h-1zM177 195h1v14h-1zM189 182h1v22h-1zM197 166h1v21h-1zM201 153h1v12h-1zM205 151h1v1h-1zM217 127h1v25h-1zM221 109h1v16h-1zM237 120h1v8h-1zM241 110h1v8h-1zM249 102h1v16h-1zM269 129h1v14h-1zM285 153h1v7h-1zM301 190h1v16h-1zM309 183h1v3h-1zM321 213h1v2h-1zM353 271h1v9h-1zM377 325h1v7h-1zM381 312h1v12h-1zM385 280h1v31h-1zM389 260h1v20h-1zM397 260h1v8h-1zM401 261h1v1h-1zM413 261h1v25h-1zM417 257h1v2h-1zM433 269h1v15h-1zM437 241h1v27h-1zM441 232h1v7h-1zM461 221h1v9h-1zM469 215h1v9h-1zM481 229h1v18h-1zM493 253h1v9h-1zM505 242h1v12h-1zM509 211h1v29h-1zM533 239h1v11h-1zM545 252h1v4h-1zM573 303h1v31h-1zM577 275h1v27h-1zM585 271h1v8h-1zM597 278h1v19h-1zM601 270h1v6h-1zM605 256h1v13h-1zM617 271h1v4h-1zM625 270h1v4h-1zM629 249h1v19h-1zM645 253h1v4h-1zM649 234h1v18h-1zM661 232h1v30h-1zM669 221h1v31h-1zM677 206h1v13h-1zM681 187h1v17h-1zM685 172h1v13h-1zM689 162h1v9h-1zM701 195h1v20h-1zM705 174h1v19h-1zM713 204h1v2h-1zM725 208h1v41h-1zM729 167h1v39h-1zM733 157h1v8h-1zM737 154h1v1h-1zM745 132h1v27h-1zM749 116h1v14h-1zM753 111h1v4h-1zM757 106h1v4h-1zM761 107h1v1h-1zM769 109h1v7h-1zM789 97h1v24h-1zM793 79h1v16h-1zM817 136h1v16h-1zM841 162h1v15h-1zM845 140h1v20h-1zM889 289h1v19h-1zM893 223h1v65h-1z" fill="#ff4a10"/>
<path d="M449 228h1v4h-1z M448 232h3v1h-3z" fill="#000"/>
<path d="M5 447h2v12h-2zM8 447h3v18h-3zM12 447h3v21h-3zM16 447h3v24h-3zM20 447h3v23h-3zM24 447h3v22h-3zM28 447h3v19h-3zM32 447h3v17h-3zM36 447h3v14h-3zM40 447h3v13h-3zM44 447h3v11h-3zM48 447h3v10h-3zM52 447h3v7h-3zM56 447h3v3h-3zM60 444h3v3h-3zM64 442h3v5h-3zM68 440h3v7h-3zM72 440h3v7h-3zM76 440h3v7h-3zM80 441h3v6h-3zM84 442h3v5h-3zM88 443h3v4h-3zM92 443h3v4h-3zM96 445h3v2h-3zM100 446h3v1h-3zM104 447h3v2h-3zM108 447h3v3h-3zM112 447h3v5h-3zM116 447h3v7h-3zM120 447h3v9h-3zM124 447h3v10h-3zM128 447h3v9h-3zM132 447h3v9h-3zM136 447h3v9h-3zM140 447h3v9h-3zM144 447h3v10h-3zM148 447h3v12h-3zM152 447h3v12h-3zM156 447h3v11h-3zM160 447h3v10h-3zM164 447h3v8h-3zM168 447h3v7h-3zM172 447h3v6h-3zM176 447h3v4h-3zM180 447h3v3h-3zM184 447h3v2h-3zM188 447h3v2h-3zM192 446h3v1h-3zM196 444h3v3h-3zM200 441h3v6h-3zM204 439h3v8h-3zM208 438h3v9h-3zM212 437h3v10h-3zM216 434h3v13h-3zM220 432h3v15h-3zM224 432h3v15h-3zM228 432h3v15h-3zM232 431h3v16h-3zM236 430h3v17h-3zM240 430h3v17h-3zM244 429h3v18h-3zM248 429h3v18h-3zM252 429h3v18h-3zM256 429h3v18h-3zM260 429h3v18h-3zM264 432h3v15h-3zM268 433h3v14h-3zM272 436h3v11h-3zM276 439h3v8h-3zM280 441h3v6h-3zM284 443h3v4h-3zM288 445h3v2h-3zM292 447h3v2h-3zM296 447h3v5h-3zM300 447h3v7h-3zM304 447h3v8h-3zM308 447h3v9h-3zM312 447h3v10h-3zM316 447h3v12h-3zM320 447h3v14h-3zM324 447h3v14h-3zM328 447h3v16h-3zM332 447h3v17h-3zM336 447h3v18h-3zM340 447h3v19h-3zM344 447h3v20h-3zM348 447h3v22h-3zM352 447h3v23h-3zM356 447h3v24h-3zM360 447h3v24h-3zM364 447h3v25h-3zM368 447h3v27h-3zM372 447h3v30h-3zM376 447h3v31h-3zM380 447h3v30h-3zM384 447h3v27h-3zM388 447h3v24h-3zM392 447h3v22h-3zM396 447h3v19h-3zM400 447h3v18h-3zM404 447h3v16h-3zM408 447h3v15h-3zM412 447h3v14h-3zM416 447h3v13h-3zM420 447h3v12h-3zM424 447h3v11h-3zM428 447h3v11h-3zM432 447h3v9h-3zM436 447h3v7h-3zM440 447h3v4h-3zM444 447h3v3h-3zM448 447h3v1h-3zM452 446h3v1h-3zM456 445h3v2h-3zM460 443h3v4h-3zM464 442h3v5h-3zM468 441h3v6h-3zM472 441h3v6h-3zM476 441h3v6h-3zM480 442h3v5h-3zM484 443h3v4h-3zM488 445h3v2h-3zM492 446h3v1h-3zM496 447h3v1h-3zM500 447h3v2h-3zM504 447h3v1h-3zM508 444h3v3h-3zM512 444h3v3h-3zM516 444h3v3h-3zM520 445h3v2h-3zM524 446h3v1h-3zM528 446h3v1h-3zM532 446h3v1h-3zM536 447h3v1h-3zM540 447h3v2h-3zM544 447h3v3h-3zM548 447h3v4h-3zM552 447h3v6h-3zM556 447h3v8h-3zM560 447h3v12h-3zM564 447h3v15h-3zM568 447h3v17h-3zM572 447h3v16h-3zM576 447h3v14h-3zM580 447h3v12h-3zM584 447h3v11h-3zM588 447h3v11h-3zM592 447h3v11h-3zM596 447h3v10h-3zM600 447h3v8h-3zM604 447h3v6h-3zM608 447h3v6h-3zM612 447h3v5h-3zM616 447h3v4h-3zM620 447h3v4h-3zM624 447h3v3h-3zM628 447h3v1h-3zM632 446h3v1h-3zM636 446h3v1h-3zM640 445h3v2h-3zM644 445h3v2h-3zM648 444h3v3h-3zM652 442h3v5h-3zM656 443h3v4h-3zM660 442h3v5h-3zM664 441h3v6h-3zM668 440h3v7h-3zM672 438h3v9h-3zM676 437h3v10h-3zM680 435h3v12h-3zM684 432h3v15h-3zM688 430h3v17h-3zM692 430h3v17h-3zM696 432h3v15h-3zM700 432h3v15h-3zM704 431h3v16h-3zM708 432h3v15h-3zM712 433h3v14h-3zM716 437h3v10h-3zM720 440h3v7h-3zM724 440h3v7h-3zM728 438h3v9h-3zM732 436h3v11h-3zM736 434h3v13h-3zM740 433h3v14h-3zM744 430h3v17h-3zM748 428h3v19h-3zM752 426h3v21h-3zM756 424h3v23h-3zM760 423h3v24h-3zM764 423h3v24h-3zM768 423h3v24h-3zM772 423h3v24h-3zM776 425h3v22h-3zM780 425h3v22h-3zM784 426h3v21h-3zM788 426h3v21h-3zM792 426h3v21h-3zM796 427h3v20h-3zM800 428h3v19h-3zM804 431h3v16h-3zM808 433h3v14h-3zM812 436h3v11h-3zM816 437h3v10h-3zM820 439h3v8h-3zM824 441h3v6h-3zM828 443h3v4h-3zM832 446h3v1h-3zM836 447h3v2h-3zM840 447h3v3h-3zM844 447h3v2h-3zM848 447h3v4h-3zM852 447h3v9h-3zM856 447h3v13h-3zM860 447h3v17h-3zM864 447h3v21h-3zM868 447h3v24h-3zM872 447h3v27h-3zM876 447h3v30h-3zM880 447h3v32h-3zM884 447h3v34h-3zM888 447h3v33h-3zM892 447h3v29h-3zM896 447h3v29h-3zM900 447h3v30h-3zM904 447h3v31h-3zM908 447h3v33h-3zM912 447h3v36h-3zM916 447h3v37h-3zM920 447h3v40h-3zM924 447h3v41h-3z" fill="#c0c0c0"/>
<path d="M5 457h6v1h-6zM54 457h2v1h-2zM330 457h2v1h-2zM438 457h2v1h-2zM583 457h4v1h-4zM603 457h4v1h-4zM870 457h2v1h-2zM11 458h4v1h-4zM53 458h1v1h-1zM332 458h3v1h-3zM435 458h3v1h-3zM587 458h4v1h-4zM599 458h4v1h-4zM872 458h2v1h-2zM15 459h3v1h-3zM51 459h2v1h-2zM335 459h4v1h-4zM431 459h4v1h-4zM591 459h8v1h-8zM874 459h1v1h-1zM18 460h2v1h-2zM50 460h1v1h-1zM339 460h3v1h-3zM423 460h8v1h-8zM875 460h2v1h-2zM20 461h3v1h-3zM48 461h2v1h-2zM342 461h2v1h-2zM420 461h3v1h-3zM877 461h1v1h-1zM23 462h4v1h-4zM46 462h2v1h-2zM344 462h3v1h-3zM418 462h2v1h-2zM878 462h1v1h-1zM27 463h4v1h-4zM43 463h3v1h-3zM347 463h4v1h-4zM416 463h2v1h-2zM879 463h1v1h-1zM31 464h4v1h-4zM39 464h4v1h-4zM351 464h4v1h-4zM414 464h2v1h-2zM880 464h1v1h-1zM35 465h4v1h-4zM355 465h4v1h-4zM412 465h2v1h-2zM881 465h1v1h-1zM56 456h2v1h-2zM327 456h3v1h-3zM440 456h3v1h-3zM579 456h4v1h-4zM607 456h4v1h-4zM869 456h1v1h-1zM58 455h2v1h-2zM151 455h16v1h-16zM324 455h3v1h-3zM443 455h4v1h-4zM575 455h4v1h-4zM611 455h3v1h-3zM867 455h2v1h-2zM60 454h2v1h-2zM143 454h8v1h-8zM167 454h8v1h-8zM322 454h2v1h-2zM447 454h3v1h-3zM572 454h3v1h-3zM614 454h2v1h-2zM866 454h1v1h-1zM62 453h1v1h-1zM139 453h4v1h-4zM175 453h4v1h-4zM320 453h2v1h-2zM450 453h2v1h-2zM570 453h2v1h-2zM616 453h3v1h-3zM865 453h1v1h-1zM63 452h2v1h-2zM135 452h4v1h-4zM179 452h4v1h-4zM318 452h2v1h-2zM452 452h2v1h-2zM568 452h2v1h-2zM619 452h4v1h-4zM863 452h2v1h-2zM65 451h1v1h-1zM131 451h4v1h-4zM183 451h4v1h-4zM316 451h2v1h-2zM454 451h2v1h-2zM566 451h2v1h-2zM623 451h4v1h-4zM862 451h1v1h-1zM66 450h2v1h-2zM128 450h3v1h-3zM187 450h4v1h-4zM314 450h2v1h-2zM456 450h2v1h-2zM563 450h3v1h-3zM627 450h4v1h-4zM861 450h1v1h-1zM68 449h2v1h-2zM126 449h2v1h-2zM191 449h4v1h-4zM312 449h2v1h-2zM458 449h2v1h-2zM559 449h4v1h-4zM631 449h4v1h-4zM859 449h2v1h-2zM70 448h2v1h-2zM123 448h3v1h-3zM195 448h4v1h-4zM310 448h2v1h-2zM460 448h3v1h-3zM556 448h3v1h-3zM635 448h4v1h-4zM858 448h1v1h-1zM72 447h2v1h-2zM119 447h4v1h-4zM199 447h3v1h-3zM308 447h2v1h-2zM463 447h3v1h-3zM554 447h2v1h-2zM639 447h8v1h-8zM856 447h2v1h-2zM74 446h2v1h-2zM116 446h3v1h-3zM202 446h2v1h-2zM306 446h2v1h-2zM466 446h2v1h-2zM551 446h3v1h-3zM647 446h4v1h-4zM854 446h2v1h-2zM76 445h3v1h-3zM114 445h2v1h-2zM204 445h3v1h-3zM304 445h2v1h-2zM468 445h2v1h-2zM515 445h36v1h-36zM651 445h4v1h-4zM851 445h3v1h-3zM79 444h3v1h-3zM111 444h3v1h-3zM207 444h3v1h-3zM302 444h2v1h-2zM470 444h2v1h-2zM503 444h12v1h-12zM655 444h8v1h-8zM847 444h4v1h-4zM82 443h2v1h-2zM107 443h4v1h-4zM210 443h2v1h-2zM301 443h1v1h-1zM472 443h7v1h-7zM499 443h4v1h-4zM663 443h4v1h-4zM844 443h3v1h-3zM84 442h7v1h-7zM103 442h4v1h-4zM212 442h3v1h-3zM299 442h2v1h-2zM479 442h20v1h-20zM667 442h4v1h-4zM842 442h2v1h-2zM91 441h12v1h-12zM215 441h3v1h-3zM298 441h1v1h-1zM671 441h4v1h-4zM840 441h2v1h-2zM218 440h2v1h-2zM296 440h2v1h-2zM675 440h4v1h-4zM838 440h2v1h-2zM220 439h3v1h-3zM294 439h2v1h-2zM679 439h4v1h-4zM836 439h2v1h-2zM223 438h3v1h-3zM292 438h2v1h-2zM683 438h4v1h-4zM834 438h2v1h-2zM226 437h2v1h-2zM290 437h2v1h-2zM687 437h4v1h-4zM832 437h2v1h-2zM228 436h3v1h-3zM287 436h3v1h-3zM691 436h3v1h-3zM731 436h16v1h-16zM830 436h2v1h-2zM231 435h4v1h-4zM284 435h3v1h-3zM694 435h2v1h-2zM727 435h4v1h-4zM747 435h3v1h-3zM828 435h2v1h-2zM235 434h4v1h-4zM282 434h2v1h-2zM696 434h3v1h-3zM724 434h3v1h-3zM750 434h2v1h-2zM826 434h2v1h-2zM239 433h4v1h-4zM279 433h3v1h-3zM699 433h4v1h-4zM722 433h2v1h-2zM752 433h2v1h-2zM824 433h2v1h-2zM243 432h4v1h-4zM275 432h4v1h-4zM703 432h19v1h-19zM754 432h2v1h-2zM822 432h2v1h-2zM247 431h4v1h-4zM271 431h4v1h-4zM756 431h2v1h-2zM820 431h2v1h-2zM251 430h20v1h-20zM758 430h2v1h-2zM818 430h2v1h-2zM359 466h8v1h-8zM410 466h2v1h-2zM882 466h1v1h-1zM367 467h3v1h-3zM408 467h2v1h-2zM883 467h2v1h-2zM370 468h2v1h-2zM406 468h2v1h-2zM885 468h1v1h-1zM372 469h2v1h-2zM404 469h2v1h-2zM886 469h2v1h-2zM374 470h2v1h-2zM402 470h2v1h-2zM888 470h2v1h-2zM376 471h3v1h-3zM399 471h3v1h-3zM890 471h2v1h-2zM379 472h20v1h-20zM892 472h2v1h-2zM760 429h3v1h-3zM815 429h3v1h-3zM763 428h4v1h-4zM811 428h4v1h-4zM767 427h3v1h-3zM807 427h4v1h-4zM770 426h2v1h-2zM803 426h4v1h-4zM772 425h7v1h-7zM799 425h4v1h-4zM779 424h20v1h-20zM894 473h2v1h-2zM896 474h3v1h-3zM899 475h4v1h-4zM903 476h8v1h-8zM911 477h8v1h-8zM919 478h4v1h-4zM923 479h3v1h-3z" fill="#ff0000"/>
<path d="M18 544h1v2h-1zM19 542h1v2h-1zM20 540h1v2h-1zM34 533h1v2h-1zM36 530h1v2h-1zM71 523h1v2h-1zM95 530h1v2h-1zM103 532h1v2h-1zM126 536h1v2h-1zM127 534h1v2h-1zM128 532h1v2h-1zM147 537h1v2h-1zM151 537h1v2h-1zM187 526h1v2h-1zM214 518h1v2h-1zM216 515h1v2h-1zM222 514h1v2h-1zM224 517h1v2h-1zM261 518h1v2h-1zM262 520h1v2h-1zM263 522h1v3h-1zM264 525h1v2h-1zM265 527h1v2h-1zM270 527h1v2h-1zM272 530h1v2h-1zM299 538h1v2h-1zM382 543h1v2h-1zM383 541h1v2h-1zM384 539h1v2h-1zM385 537h1v2h-1zM387 534h1v2h-1zM410 534h1v2h-1zM412 531h1v2h-1zM435 527h1v2h-1zM473 521h1v2h-1zM474 523h1v2h-1zM475 525h1v3h-1zM476 528h1v2h-1zM477 530h1v2h-1zM479 528h1v2h-1zM486 529h1v2h-1zM488 532h1v2h-1zM506 527h1v2h-1zM507 525h1v2h-1zM508 523h1v2h-1zM514 523h1v2h-1zM515 525h1v2h-1zM516 527h1v2h-1zM559 540h1v2h-1zM570 542h1v2h-1zM571 540h1v2h-1zM572 538h1v2h-1zM574 535h1v2h-1zM576 532h1v2h-1zM587 532h1v2h-1zM654 523h1v2h-1zM655 525h1v2h-1zM656 527h1v2h-1zM659 526h1v2h-1zM667 525h1v2h-1zM690 516h1v2h-1zM691 518h1v2h-1zM692 520h1v2h-1zM695 524h1v2h-1zM706 522h1v2h-1zM708 525h1v2h-1zM714 528h1v2h-1zM716 531h1v2h-1zM722 532h1v2h-1zM723 530h1v2h-1zM724 528h1v2h-1zM727 524h1v2h-1zM793 515h1v2h-1zM794 517h1v2h-1zM795 519h1v2h-1zM796 521h1v2h-1zM797 523h1v2h-1zM846 529h1v2h-1zM848 532h1v2h-1zM850 535h1v2h-1zM851 537h1v2h-1zM852 539h1v2h-1zM886 547h1v2h-1zM888 544h1v2h-1zM889 542h1v2h-1zM890 539h1v3h-1zM891 535h1v4h-1zM892 532h1v3h-1zM893 530h1v2h-1zM894 531h1v2h-1zM895 533h1v2h-1zM896 535h1v2h-1zM5 543h1v1h-1zM327 543h11v1h-11zM561 543h1v1h-1zM859 543h2v1h-2zM909 543h2v1h-2zM6 544h1v1h-1zM338 544h2v1h-2zM562 544h1v1h-1zM568 544h2v1h-2zM861 544h2v1h-2zM911 544h7v1h-7zM7 545h2v1h-2zM340 545h3v1h-3zM353 545h6v1h-6zM381 545h1v1h-1zM563 545h2v1h-2zM566 545h2v1h-2zM863 545h4v1h-4zM918 545h2v1h-2zM9 546h1v1h-1zM16 546h2v1h-2zM343 546h3v1h-3zM352 546h1v1h-1zM359 546h4v1h-4zM380 546h1v1h-1zM565 546h1v1h-1zM867 546h8v1h-8zM887 546h1v1h-1zM920 546h6v1h-6zM10 547h2v1h-2zM14 547h2v1h-2zM346 547h1v1h-1zM351 547h1v1h-1zM363 547h4v1h-4zM379 547h1v1h-1zM875 547h4v1h-4zM12 548h2v1h-2zM347 548h2v1h-2zM350 548h1v1h-1zM367 548h3v1h-3zM378 548h1v1h-1zM879 548h4v1h-4zM21 539h1v1h-1zM120 539h3v1h-3zM148 539h1v1h-1zM150 539h1v1h-1zM294 539h1v1h-1zM314 539h1v1h-1zM320 539h2v1h-2zM558 539h1v1h-1zM902 539h2v1h-2zM22 538h1v1h-1zM118 538h2v1h-2zM123 538h3v1h-3zM293 538h1v1h-1zM313 538h1v1h-1zM557 538h1v1h-1zM899 538h3v1h-3zM23 537h1v1h-1zM111 537h7v1h-7zM291 537h2v1h-2zM300 537h1v1h-1zM311 537h2v1h-2zM556 537h1v1h-1zM573 537h1v1h-1zM897 537h2v1h-2zM24 536h1v1h-1zM107 536h4v1h-4zM146 536h1v1h-1zM152 536h1v1h-1zM290 536h1v1h-1zM301 536h6v1h-6zM310 536h1v1h-1zM386 536h1v1h-1zM409 536h1v1h-1zM555 536h1v1h-1zM25 535h1v1h-1zM33 535h1v1h-1zM105 535h2v1h-2zM133 535h2v1h-2zM145 535h1v1h-1zM153 535h1v1h-1zM289 535h1v1h-1zM307 535h3v1h-3zM407 535h2v1h-2zM549 535h2v1h-2zM554 535h1v1h-1zM589 535h2v1h-2zM836 535h2v1h-2zM26 534h1v1h-1zM31 534h2v1h-2zM104 534h1v1h-1zM132 534h1v1h-1zM135 534h3v1h-3zM143 534h2v1h-2zM154 534h1v1h-1zM288 534h1v1h-1zM406 534h1v1h-1zM423 534h7v1h-7zM489 534h1v1h-1zM547 534h2v1h-2zM551 534h3v1h-3zM575 534h1v1h-1zM588 534h1v1h-1zM591 534h3v1h-3zM719 534h3v1h-3zM834 534h2v1h-2zM838 534h1v1h-1zM849 534h1v1h-1zM27 533h2v1h-2zM30 533h1v1h-1zM97 533h1v1h-1zM131 533h1v1h-1zM138 533h2v1h-2zM142 533h1v1h-1zM155 533h1v1h-1zM275 533h7v1h-7zM287 533h1v1h-1zM388 533h1v1h-1zM391 533h3v1h-3zM403 533h3v1h-3zM411 533h1v1h-1zM421 533h2v1h-2zM430 533h1v1h-1zM490 533h1v1h-1zM541 533h2v1h-2zM546 533h1v1h-1zM594 533h1v1h-1zM717 533h2v1h-2zM827 533h7v1h-7zM839 533h2v1h-2zM29 532h1v1h-1zM35 532h1v1h-1zM96 532h1v1h-1zM98 532h1v1h-1zM130 532h1v1h-1zM140 532h2v1h-2zM156 532h1v1h-1zM273 532h2v1h-2zM282 532h2v1h-2zM286 532h1v1h-1zM389 532h2v1h-2zM394 532h2v1h-2zM399 532h4v1h-4zM419 532h2v1h-2zM431 532h1v1h-1zM491 532h2v1h-2zM495 532h7v1h-7zM528 532h2v1h-2zM540 532h1v1h-1zM543 532h3v1h-3zM579 532h3v1h-3zM595 532h1v1h-1zM813 532h1v1h-1zM825 532h2v1h-2zM841 532h1v1h-1zM37 529h2v1h-2zM42 529h2v1h-2zM46 529h2v1h-2zM94 529h1v1h-1zM163 529h8v1h-8zM174 529h1v1h-1zM184 529h2v1h-2zM271 529h1v1h-1zM434 529h1v1h-1zM505 529h1v1h-1zM517 529h6v1h-6zM533 529h5v1h-5zM599 529h3v1h-3zM610 529h1v1h-1zM616 529h3v1h-3zM623 529h3v1h-3zM657 529h1v1h-1zM807 529h3v1h-3zM816 529h1v1h-1zM822 529h1v1h-1zM844 529h1v1h-1zM39 528h3v1h-3zM48 528h2v1h-2zM76 528h18v1h-18zM175 528h1v1h-1zM182 528h2v1h-2zM186 528h1v1h-1zM484 528h2v1h-2zM602 528h1v1h-1zM608 528h2v1h-2zM626 528h1v1h-1zM658 528h1v1h-1zM665 528h1v1h-1zM804 528h3v1h-3zM817 528h5v1h-5zM845 528h1v1h-1zM44 530h2v1h-2zM101 530h1v1h-1zM159 530h4v1h-4zM171 530h3v1h-3zM413 530h5v1h-5zM433 530h1v1h-1zM478 530h1v1h-1zM503 530h2v1h-2zM523 530h3v1h-3zM531 530h2v1h-2zM538 530h1v1h-1zM584 530h2v1h-2zM597 530h2v1h-2zM611 530h2v1h-2zM614 530h2v1h-2zM619 530h4v1h-4zM715 530h1v1h-1zM810 530h1v1h-1zM815 530h1v1h-1zM823 530h1v1h-1zM843 530h1v1h-1zM50 527h1v1h-1zM74 527h2v1h-2zM176 527h1v1h-1zM179 527h3v1h-3zM266 527h2v1h-2zM480 527h1v1h-1zM482 527h2v1h-2zM603 527h2v1h-2zM606 527h2v1h-2zM627 527h1v1h-1zM639 527h4v1h-4zM664 527h1v1h-1zM666 527h1v1h-1zM697 527h1v1h-1zM709 527h5v1h-5zM725 527h1v1h-1zM802 527h2v1h-2zM51 526h2v1h-2zM73 526h1v1h-1zM177 526h2v1h-2zM268 526h2v1h-2zM436 526h1v1h-1zM481 526h1v1h-1zM605 526h1v1h-1zM628 526h1v1h-1zM631 526h8v1h-8zM643 526h3v1h-3zM663 526h1v1h-1zM696 526h1v1h-1zM698 526h1v1h-1zM726 526h1v1h-1zM800 526h2v1h-2zM53 525h1v1h-1zM72 525h1v1h-1zM188 525h1v1h-1zM191 525h3v1h-3zM437 525h2v1h-2zM629 525h2v1h-2zM646 525h1v1h-1zM660 525h1v1h-1zM662 525h1v1h-1zM699 525h2v1h-2zM798 525h2v1h-2zM54 524h1v1h-1zM189 524h2v1h-2zM194 524h1v1h-1zM439 524h19v1h-19zM647 524h1v1h-1zM661 524h1v1h-1zM668 524h1v1h-1zM701 524h1v1h-1zM707 524h1v1h-1zM55 523h1v1h-1zM195 523h1v1h-1zM458 523h2v1h-2zM463 523h3v1h-3zM648 523h1v1h-1zM669 523h5v1h-5zM694 523h1v1h-1zM702 523h1v1h-1zM728 523h1v1h-1zM56 522h1v1h-1zM70 522h1v1h-1zM196 522h1v1h-1zM460 522h3v1h-3zM466 522h2v1h-2zM509 522h5v1h-5zM649 522h5v1h-5zM674 522h2v1h-2zM693 522h1v1h-1zM703 522h2v1h-2zM729 522h2v1h-2zM739 522h3v1h-3zM57 521h1v1h-1zM67 521h3v1h-3zM197 521h1v1h-1zM468 521h5v1h-5zM676 521h2v1h-2zM705 521h1v1h-1zM731 521h8v1h-8zM742 521h1v1h-1zM783 521h3v1h-3zM58 520h2v1h-2zM63 520h4v1h-4zM198 520h2v1h-2zM212 520h2v1h-2zM227 520h4v1h-4zM678 520h1v1h-1zM743 520h2v1h-2zM775 520h8v1h-8zM786 520h1v1h-1zM60 519h3v1h-3zM200 519h3v1h-3zM210 519h2v1h-2zM225 519h2v1h-2zM231 519h3v1h-3zM679 519h2v1h-2zM745 519h1v1h-1zM764 519h3v1h-3zM771 519h4v1h-4zM787 519h1v1h-1zM99 531h2v1h-2zM102 531h1v1h-1zM129 531h1v1h-1zM157 531h2v1h-2zM284 531h2v1h-2zM396 531h3v1h-3zM418 531h1v1h-1zM432 531h1v1h-1zM487 531h1v1h-1zM493 531h2v1h-2zM502 531h1v1h-1zM526 531h2v1h-2zM530 531h1v1h-1zM539 531h1v1h-1zM577 531h2v1h-2zM582 531h2v1h-2zM586 531h1v1h-1zM596 531h1v1h-1zM613 531h1v1h-1zM811 531h2v1h-2zM814 531h1v1h-1zM824 531h1v1h-1zM842 531h1v1h-1zM847 531h1v1h-1zM149 540h1v1h-1zM295 540h2v1h-2zM298 540h1v1h-1zM315 540h2v1h-2zM318 540h2v1h-2zM322 540h1v1h-1zM904 540h2v1h-2zM203 518h7v1h-7zM234 518h2v1h-2zM255 518h6v1h-6zM681 518h1v1h-1zM746 518h2v1h-2zM762 518h2v1h-2zM767 518h4v1h-4zM788 518h1v1h-1zM215 517h1v1h-1zM236 517h3v1h-3zM243 517h4v1h-4zM251 517h4v1h-4zM682 517h2v1h-2zM748 517h6v1h-6zM760 517h2v1h-2zM789 517h1v1h-1zM217 514h2v1h-2zM219 513h3v1h-3zM223 516h1v1h-1zM239 516h4v1h-4zM247 516h4v1h-4zM684 516h3v1h-3zM754 516h2v1h-2zM758 516h2v1h-2zM790 516h2v1h-2zM297 541h1v1h-1zM317 541h1v1h-1zM323 541h2v1h-2zM853 541h5v1h-5zM906 541h1v1h-1zM325 542h2v1h-2zM560 542h1v1h-1zM858 542h1v1h-1zM907 542h2v1h-2zM349 549h1v1h-1zM370 549h1v1h-1zM377 549h1v1h-1zM883 549h3v1h-3zM371 550h1v1h-1zM375 550h2v1h-2zM372 551h1v1h-1zM374 551h1v1h-1zM373 552h1v1h-1zM687 515h3v1h-3zM756 515h2v1h-2zM792 515h1v1h-1z" fill="#1e90ff"/>
<rect x="1168" y="50" width="3" height="1" fill="#000" />
<text x="1173" y="53.6" font-size="9.7" fill="#000" textLength="32.6" lengthAdjust="spacingAndGlyphs" >0.76470</text>
<rect x="1168" y="83" width="3" height="1" fill="#000" />
<text x="1173" y="86.6" font-size="9.7" fill="#000" textLength="32.6" lengthAdjust="spacingAndGlyphs" >0.75710</text>
<rect x="1168" y="116" width="3" height="1" fill="#000" />
<text x="1173" y="119.6" font-size="9.7" fill="#000" textLength="32.6" lengthAdjust="spacingAndGlyphs" >0.74950</text>
<rect x="1168" y="149" width="3" height="1" fill="#000" />
<text x="1173" y="152.6" font-size="9.7" fill="#000" textLength="32.6" lengthAdjust="spacingAndGlyphs" >0.74210</text>
<rect x="1168" y="182" width="3" height="1" fill="#000" />
<text x="1173" y="185.6" font-size="9.7" fill="#000" textLength="32.6" lengthAdjust="spacingAndGlyphs" >0.73450</text>
<rect x="1168" y="215" width="3" height="1" fill="#000" />
<text x="1173" y="218.6" font-size="9.7" fill="#000" textLength="32.6" lengthAdjust="spacingAndGlyphs" >0.72690</text>
<rect x="1168" y="248" width="3" height="1" fill="#000" />
<text x="1173" y="251.6" font-size="9.7" fill="#000" textLength="32.6" lengthAdjust="spacingAndGlyphs" >0.71930</text>
<rect x="1168" y="281" width="3" height="1" fill="#000" />
<text x="1173" y="284.6" font-size="9.7" fill="#000" textLength="32.6" lengthAdjust="spacingAndGlyphs" >0.71170</text>
<rect x="1168" y="314" width="3" height="1" fill="#000" />
<text x="1173" y="317.6" font-size="9.7" fill="#000" textLength="32.6" lengthAdjust="spacingAndGlyphs" >0.70410</text>
<rect x="1168" y="347" width="3" height="1" fill="#000" />
<text x="1173" y="350.6" font-size="9.7" fill="#000" textLength="32.6" lengthAdjust="spacingAndGlyphs" >0.69650</text>
<rect x="1168" y="380" width="3" height="1" fill="#000" />
<text x="1173" y="383.6" font-size="9.7" fill="#000" textLength="32.6" lengthAdjust="spacingAndGlyphs" >0.68890</text>
<rect x="1168" y="413" width="3" height="1" fill="#000" />
<text x="1173" y="416.6" font-size="9.7" fill="#000" textLength="32.6" lengthAdjust="spacingAndGlyphs" >0.68130</text>
<!--LINES-->
<rect x="1169" y="86" width="38" height="11" fill="#ff0000" />
<text x="1173" y="94.6" font-size="9.7" fill="#fff" textLength="32.6" lengthAdjust="spacingAndGlyphs" >0.75512</text>
<rect x="1169" y="152" width="38" height="11" fill="#ff0000" />
<text x="1173" y="160.6" font-size="9.7" fill="#fff" textLength="32.6" lengthAdjust="spacingAndGlyphs" >0.74002</text>
<rect x="1169" y="217" width="38" height="11" fill="#ff0000" />
<text x="1173" y="225.6" font-size="9.7" fill="#fff" textLength="32.6" lengthAdjust="spacingAndGlyphs" >0.72504</text>
<rect x="1169" y="282" width="38" height="11" fill="#00ff00" />
<text x="1173" y="290.6" font-size="9.7" fill="#fff" textLength="32.6" lengthAdjust="spacingAndGlyphs" >0.71013</text>
<rect x="1169" y="344" width="38" height="11" fill="#0000ff" />
<text x="1173" y="352.6" font-size="9.7" fill="#fff" textLength="32.6" lengthAdjust="spacingAndGlyphs" >0.69582</text>
<rect x="1169" y="382" width="38" height="11" fill="#000" />
<text x="1173" y="390.6" font-size="9.7" fill="#fff" textLength="32.6" lengthAdjust="spacingAndGlyphs" >0.68709</text>
<rect x="1168" y="420" width="2" height="1" fill="#000" />
<rect x="1168" y="447" width="2" height="1" fill="#000" />
<rect x="1168" y="489" width="2" height="1" fill="#000" />
<text x="1171" y="429" font-size="9.7" fill="#000" textLength="37" lengthAdjust="spacingAndGlyphs" >0.008217</text>
<text x="1173" y="451" font-size="9.7" fill="#000" textLength="18" lengthAdjust="spacingAndGlyphs" >0.00</text>
<text x="1171" y="487.3" font-size="9.7" fill="#000" textLength="36" lengthAdjust="spacingAndGlyphs" >-0.01254</text>
<rect x="1168" y="494" width="2" height="1" fill="#000" />
<rect x="1168" y="565" width="2" height="1" fill="#000" />
<text x="1171" y="502.8" font-size="9.7" fill="#000" textLength="14.5" lengthAdjust="spacingAndGlyphs" >100</text>
<text x="1171" y="519" font-size="9.7" fill="#000" textLength="9.6" lengthAdjust="spacingAndGlyphs" >70</text>
<text x="1171" y="548" font-size="9.7" fill="#000" textLength="9.6" lengthAdjust="spacingAndGlyphs" >30</text>
<text x="1171.4" y="562.8" font-size="9.7" fill="#000" textLength="4.6" lengthAdjust="spacingAndGlyphs" >0</text>
<path d="M6 515.5H1167M6 544.5H1167" stroke="#c0c0c0" stroke-width="1" stroke-dasharray="3 3" fill="none"/>
<path d="M7.7 36.3 L11.7 31.5 L15.7 36.3Z" fill="#000" shape-rendering="geometricPrecision"/>
<text x="20.7" y="37" font-size="9.7" fill="#000" textLength="68.3" lengthAdjust="spacingAndGlyphs" >AUDUSD-,Daily</text>
<text x="94.9" y="37" font-size="9.7" fill="#000" textLength="32.2" lengthAdjust="spacingAndGlyphs" >0.68672</text>
<text x="131.5" y="37" font-size="9.7" fill="#000" textLength="32.2" lengthAdjust="spacingAndGlyphs" >0.68746</text>
<text x="167.4" y="37" font-size="9.7" fill="#000" textLength="32.2" lengthAdjust="spacingAndGlyphs" >0.68626</text>
<text x="204" y="37" font-size="9.7" fill="#000" textLength="32.2" lengthAdjust="spacingAndGlyphs" >0.68709</text>
<text x="9.2" y="431" font-size="9.7" fill="#000" textLength="65.4" lengthAdjust="spacingAndGlyphs" >MACD(12,26,9)</text>
<text x="78.6" y="431" font-size="9.7" fill="#000" textLength="39.9" lengthAdjust="spacingAndGlyphs" >-0.011603</text>
<text x="122.3" y="431" font-size="9.7" fill="#000" textLength="40.2" lengthAdjust="spacingAndGlyphs" >-0.009400</text>
<text x="9.2" y="505" font-size="9.7" fill="#000" textLength="31.4" lengthAdjust="spacingAndGlyphs" >RSI(14)</text>
<text x="44" y="505" font-size="9.7" fill="#000" textLength="32.8" lengthAdjust="spacingAndGlyphs" >27.1712</text>
<rect x="5" y="567" width="1" height="3" fill="#000" />
<text x="4.6" y="579.3" font-size="9.7" fill="#000" textLength="51.7" lengthAdjust="spacingAndGlyphs" >18 Aug 2021</text>
<rect x="69" y="567" width="1" height="3" fill="#000" />
<text x="67.9" y="579.3" font-size="9.7" fill="#000" textLength="46.4" lengthAdjust="spacingAndGlyphs" >6 Sep 2021</text>
<rect x="133" y="567" width="1" height="3" fill="#000" />
<text x="131.9" y="579.3" font-size="9.7" fill="#000" textLength="51.4" lengthAdjust="spacingAndGlyphs" >24 Sep 2021</text>
<rect x="197" y="567" width="1" height="3" fill="#000" />
<text x="196.2" y="579.3" font-size="9.7" fill="#000" textLength="49.7" lengthAdjust="spacingAndGlyphs" >13 Oct 2021</text>
<rect x="261" y="567" width="1" height="3" fill="#000" />
<text x="260.8" y="579.3" font-size="9.7" fill="#000" textLength="47.4" lengthAdjust="spacingAndGlyphs" >1 Nov 2021</text>
<rect x="325" y="567" width="1" height="3" fill="#000" />
<text x="324.1" y="579.3" font-size="9.7" fill="#000" textLength="53.0" lengthAdjust="spacingAndGlyphs" >19 Nov 2021</text>
<rect x="389" y="567" width="1" height="3" fill="#000" />
<text x="388.3" y="579.3" font-size="9.7" fill="#000" textLength="46.4" lengthAdjust="spacingAndGlyphs" >8 Dec 2021</text>
<rect x="453" y="567" width="1" height="3" fill="#000" />
<text x="452.2" y="579.3" font-size="9.7" fill="#000" textLength="51.1" lengthAdjust="spacingAndGlyphs" >27 Dec 2021</text>
<rect x="517" y="567" width="1" height="3" fill="#000" />
<text x="516.9" y="579.3" font-size="9.7" fill="#000" textLength="48.7" lengthAdjust="spacingAndGlyphs" >14 Jan 2022</text>
<rect x="581" y="567" width="1" height="3" fill="#000" />
<text x="579.8" y="579.3" font-size="9.7" fill="#000" textLength="47.1" lengthAdjust="spacingAndGlyphs" >2 Feb 2022</text>
<rect x="645" y="567" width="1" height="3" fill="#000" />
<text x="644.1" y="579.3" font-size="9.7" fill="#000" textLength="50.7" lengthAdjust="spacingAndGlyphs" >21 Feb 2022</text>
<rect x="709" y="567" width="1" height="3" fill="#000" />
<text x="708.7" y="579.3" font-size="9.7" fill="#000" textLength="50.7" lengthAdjust="spacingAndGlyphs" >11 Mar 2022</text>
<rect x="773" y="567" width="1" height="3" fill="#000" />
<text x="772.6" y="579.3" font-size="9.7" fill="#000" textLength="51.0" lengthAdjust="spacingAndGlyphs" >30 Mar 2022</text>
<rect x="837" y="567" width="1" height="3" fill="#000" />
<text x="836.2" y="579.3" font-size="9.7" fill="#000" textLength="50.4" lengthAdjust="spacingAndGlyphs" >18 Apr 2022</text>
<rect x="901" y="567" width="1" height="3" fill="#000" />
<text x="899.9" y="579.3" font-size="9.7" fill="#000" textLength="50.0" lengthAdjust="spacingAndGlyphs" >6 May 2022</text>
<defs>
<linearGradient id="gT" x1="0" y1="0" x2="0" y2="1"><stop offset="0" stop-color="#5656f4"/><stop offset="1" stop-color="#3434dc"/></linearGradient>
<linearGradient id="gB" x1="0" y1="0" x2="0" y2="1"><stop offset="0" stop-color="#3232da"/><stop offset="1" stop-color="#0000a8"/></linearGradient>
<linearGradient id="gS" x1="0" y1="0" x2="0" y2="1"><stop offset="0" stop-color="#f4f4f4"/><stop offset="0.45" stop-color="#e4e4e4"/><stop offset="0.5" stop-color="#d6d6d6"/><stop offset="1" stop-color="#cfcfcf"/></linearGradient>
</defs>
<rect x="6" y="43" width="223" height="61" fill="#fff" />
<rect x="8" y="45" width="52" height="24" fill="url(#gT)" />
<rect x="175" y="45" width="52" height="24" fill="url(#gT)" />
<rect x="8" y="69" width="109" height="33" fill="url(#gB)" />
<rect x="119" y="69" width="108" height="33" fill="url(#gB)" />
<rect x="117" y="69" width="2" height="33" fill="#fff" />
<rect x="12" y="68.5" width="44" height="1" fill="#a8a8f6" />
<rect x="179" y="68.5" width="44" height="1" fill="#a8a8f6" />
<rect x="62.5" y="45.5" width="110" height="21" fill="#fff" stroke="#b4b4b4" stroke-width="1"/>
<rect x="64" y="47" width="18.5" height="18" fill="url(#gS)" stroke="#c8c8c8" stroke-width="0.6"/>
<rect x="152.5" y="47" width="18.5" height="18" fill="url(#gS)" stroke="#c8c8c8" stroke-width="0.6"/>
<rect x="83" y="46" width="1" height="20" fill="#b4b4b4" />
<rect x="151" y="46" width="1" height="20" fill="#b4b4b4" />
<path d="M70 54.2h5.4l-2.7 3.2z" fill="#4c5ca8" shape-rendering="geometricPrecision"/>
<path d="M158.8 57.6h5.4l-2.7 -3.2z" fill="#4c5ca8" shape-rendering="geometricPrecision"/>
<text x="124" y="60.2" font-size="12.2" fill="#000" textLength="23.7" lengthAdjust="spacingAndGlyphs" >2.00</text>
<text x="20.7" y="60.7" font-size="12.2" fill="#fff" textLength="25.2" lengthAdjust="spacingAndGlyphs" >SELL</text>
<text x="188.6" y="60.7" font-size="12.2" fill="#fff" textLength="23.2" lengthAdjust="spacingAndGlyphs" >BUY</text>
<text x="27.8" y="96.4" font-size="11.2" fill="#fff" textLength="24.2" lengthAdjust="spacingAndGlyphs" font-weight="bold" >0.68</text>
<text x="138" y="96.4" font-size="11.2" fill="#fff" textLength="23.7" lengthAdjust="spacingAndGlyphs" font-weight="bold" >0.68</text>
<text x="56.0" y="96.5" font-size="34.2" fill="#fff" textLength="34.6" lengthAdjust="spacingAndGlyphs" >70</text>
<text x="166.9" y="96.5" font-size="34.2" fill="#fff" textLength="34.0" lengthAdjust="spacingAndGlyphs" >73</text>
<text x="95.6" y="81" font-size="11" fill="#fff" textLength="6.4" lengthAdjust="spacingAndGlyphs" font-weight="bold" >9</text>
<text x="206.4" y="81" font-size="11" fill="#fff" textLength="6" lengthAdjust="spacingAndGlyphs" font-weight="bold" >2</text>
<rect x="0" y="588" width="1207" height="1" fill="#e3e3e3" />
<rect x="0" y="590" width="1207" height="19" fill="#f0f0f0" />
<rect x="0" y="609" width="1207" height="3" fill="#e9e9e9" />
<rect x="0" y="589" width="1207" height="1" fill="#000" />
<rect x="215" y="589" width="107" height="18" fill="#fff" />
<rect x="215" y="589" width="1" height="19" fill="#000" />
<rect x="321" y="589" width="1" height="19" fill="#000" />
<rect x="215" y="607" width="107" height="1" fill="#000" />
<rect x="0" y="590" width="1" height="19" fill="#a0a0a0" />
<rect x="1" y="590" width="1" height="19" fill="#fdfdfd" />
<text x="17.5" y="604" font-size="12.4" fill="#7b7b85" textLength="77.5" lengthAdjust="spacingAndGlyphs" >USDX,Weekly</text>
<text x="117.5" y="604" font-size="12.4" fill="#7b7b85" textLength="84.3" lengthAdjust="spacingAndGlyphs" >EURUSD-,Daily</text>
<text x="334.3" y="604" font-size="12.4" fill="#7b7b85" textLength="83.7" lengthAdjust="spacingAndGlyphs" >USDCHF-,Daily</text>
<text x="441.8" y="604" font-size="12.4" fill="#7b7b85" textLength="85.7" lengthAdjust="spacingAndGlyphs" >USDCAD-,Daily</text>
<text x="550.4" y="604" font-size="12.4" fill="#7b7b85" textLength="87.6" lengthAdjust="spacingAndGlyphs" >USDCNH-,Daily</text>
<text x="660.9" y="604" font-size="12.4" fill="#7b7b85" textLength="73.6" lengthAdjust="spacingAndGlyphs" >XAUUSD-,H1</text>
<text x="757.4" y="604" font-size="12.4" fill="#7b7b85" textLength="56.1" lengthAdjust="spacingAndGlyphs" >UKOil-,H1</text>
<text x="838.6" y="604" font-size="12.4" fill="#7b7b85" textLength="51.4" lengthAdjust="spacingAndGlyphs" >DJ30-,H1</text>
<text x="913" y="604" font-size="12.4" fill="#7b7b85" textLength="61.8" lengthAdjust="spacingAndGlyphs" >UK100-,H1</text>
<text x="998" y="604" font-size="12.4" fill="#7b7b85" textLength="68" lengthAdjust="spacingAndGlyphs" >USOil-,Daily</text>
<text x="1088" y="604" font-size="12.4" fill="#7b7b85" textLength="54" lengthAdjust="spacingAndGlyphs" >HK50-,H1</text>
<text x="224" y="604" font-size="12.4" fill="#000" textLength="86.7" lengthAdjust="spacingAndGlyphs" >AUDUSD-,Daily</text>
<rect x="105.5" y="592" width="1" height="14" fill="#6e6e6e" />
<rect x="430.5" y="592" width="1" height="14" fill="#6e6e6e" />
<rect x="538.5" y="592" width="1" height="14" fill="#6e6e6e" />
<rect x="649.5" y="592" width="1" height="14" fill="#6e6e6e" />
<rect x="746.5" y="592" width="1" height="14" fill="#6e6e6e" />
<rect x="825.5" y="592" width="1" height="14" fill="#6e6e6e" />
<rect x="901.5" y="592" width="1" height="14" fill="#6e6e6e" />
<rect x="985.5" y="592" width="1" height="14" fill="#6e6e6e" />
<rect x="1077.5" y="592" width="1" height="14" fill="#6e6e6e" />
<rect x="1153.5" y="592" width="1" height="14" fill="#6e6e6e" />
<clipPath id="cEU"><rect x="1160" y="590" width="17" height="18"/></clipPath>
<text x="1164.8" y="604" font-size="12.4" fill="#7b7b85" textLength="26" lengthAdjust="spacingAndGlyphs" clip-path="url(#cEU)">EUR</text>
<path d="M1186 595v6.4l-3.4 -3.2z" fill="#a6a6a6"/>
<path d="M1201.6 595v6.4l3.6 -3.2z" fill="#000"/>
</svg>
</body></html>
